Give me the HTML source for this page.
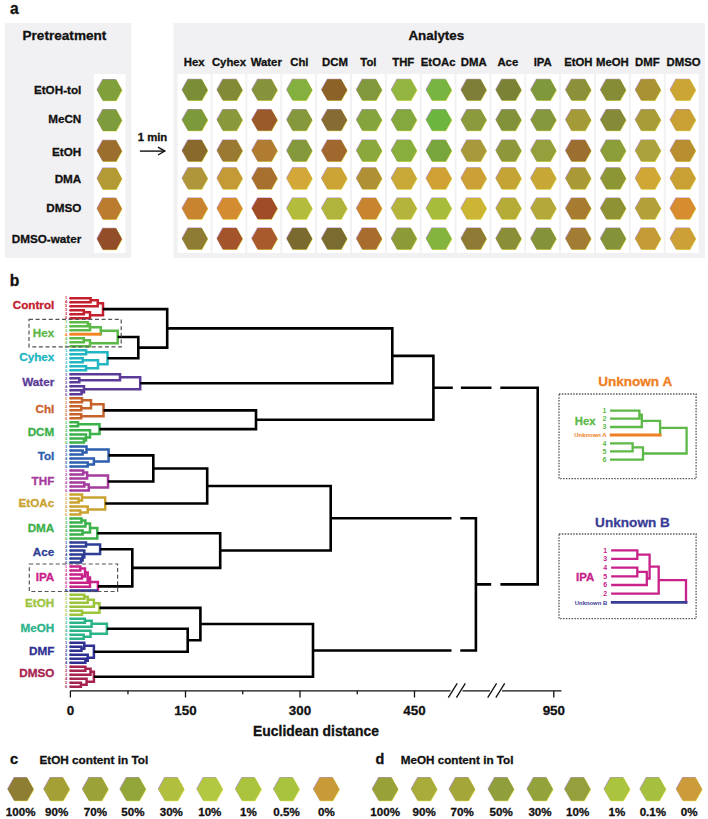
<!DOCTYPE html>
<html><head><meta charset="utf-8"><title>Figure</title>
<style>
html,body{margin:0;padding:0;background:#fff;}
svg{display:block;}
text{font-family:"Liberation Sans", sans-serif;}
</style></head>
<body>
<svg width="708" height="819" viewBox="0 0 708 819" font-family='"Liberation Sans", sans-serif'>
<rect x="0" y="0" width="708" height="819" fill="#fff"/>
<text x="9.9" y="14" font-size="15.6" fill="#111" stroke="#111" stroke-width="0.3" text-anchor="start" font-weight="bold" >a</text>
<rect x="5" y="23" width="126.2" height="235" fill="#f1f1f3"/>
<rect x="173.6" y="23" width="531.4" height="235" fill="#f1f1f3"/>
<text x="22.5" y="40" font-size="13.6" fill="#111" stroke="#111" stroke-width="0.3" text-anchor="start" font-weight="bold" >Pretreatment</text>
<text x="436.3" y="40" font-size="13.4" fill="#111" stroke="#111" stroke-width="0.3" text-anchor="middle" font-weight="bold" >Analytes</text>
<rect x="94" y="74" width="31.5" height="179" fill="#fff"/>
<text x="81.3" y="93.9" font-size="11.7" fill="#111" stroke="#111" stroke-width="0.3" text-anchor="end" font-weight="bold" >EtOH-tol</text>
<path d="M96.50,89.60 L102.34,78.90 L115.66,78.90 L121.50,89.60 L115.66,100.30 L102.34,100.30Z" fill="#b58fd0"/><path d="M97.50,90.60 L103.34,79.90 L116.66,79.90 L122.50,90.60 L116.66,101.30 L103.34,101.30Z" fill="#e8e65a"/><path d="M97.00,90.10 L102.84,79.40 L116.16,79.40 L122.00,90.10 L116.16,100.80 L102.84,100.80Z" fill="#80a03c"/>
<text x="81.3" y="122.8" font-size="11.7" fill="#111" stroke="#111" stroke-width="0.3" text-anchor="end" font-weight="bold" >MeCN</text>
<path d="M96.50,119.80 L102.34,109.10 L115.66,109.10 L121.50,119.80 L115.66,130.50 L102.34,130.50Z" fill="#b58fd0"/><path d="M97.50,120.80 L103.34,110.10 L116.66,110.10 L122.50,120.80 L116.66,131.50 L103.34,131.50Z" fill="#e8e65a"/><path d="M97.00,120.30 L102.84,109.60 L116.16,109.60 L122.00,120.30 L116.16,131.00 L102.84,131.00Z" fill="#7e9c3c"/>
<text x="81.3" y="155.5" font-size="11.7" fill="#111" stroke="#111" stroke-width="0.3" text-anchor="end" font-weight="bold" >EtOH</text>
<path d="M96.50,150.40 L102.34,139.70 L115.66,139.70 L121.50,150.40 L115.66,161.10 L102.34,161.10Z" fill="#b58fd0"/><path d="M97.50,151.40 L103.34,140.70 L116.66,140.70 L122.50,151.40 L116.66,162.10 L103.34,162.10Z" fill="#e8e65a"/><path d="M97.00,150.90 L102.84,140.20 L116.16,140.20 L122.00,150.90 L116.16,161.60 L102.84,161.60Z" fill="#9c6e2e"/>
<text x="81.3" y="183.1" font-size="11.7" fill="#111" stroke="#111" stroke-width="0.3" text-anchor="end" font-weight="bold" >DMA</text>
<path d="M96.50,178.20 L102.34,167.50 L115.66,167.50 L121.50,178.20 L115.66,188.90 L102.34,188.90Z" fill="#b58fd0"/><path d="M97.50,179.20 L103.34,168.50 L116.66,168.50 L122.50,179.20 L116.66,189.90 L103.34,189.90Z" fill="#e8e65a"/><path d="M97.00,178.70 L102.84,168.00 L116.16,168.00 L122.00,178.70 L116.16,189.40 L102.84,189.40Z" fill="#b49a34"/>
<text x="81.3" y="211.8" font-size="11.7" fill="#111" stroke="#111" stroke-width="0.3" text-anchor="end" font-weight="bold" >DMSO</text>
<path d="M96.50,208.30 L102.34,197.60 L115.66,197.60 L121.50,208.30 L115.66,219.00 L102.34,219.00Z" fill="#b58fd0"/><path d="M97.50,209.30 L103.34,198.60 L116.66,198.60 L122.50,209.30 L116.66,220.00 L103.34,220.00Z" fill="#e8e65a"/><path d="M97.00,208.80 L102.84,198.10 L116.16,198.10 L122.00,208.80 L116.16,219.50 L102.84,219.50Z" fill="#bc7c30"/>
<text x="81.3" y="242.5" font-size="11.7" fill="#111" stroke="#111" stroke-width="0.3" text-anchor="end" font-weight="bold" >DMSO-water</text>
<path d="M96.50,238.50 L102.34,227.80 L115.66,227.80 L121.50,238.50 L115.66,249.20 L102.34,249.20Z" fill="#b58fd0"/><path d="M97.50,239.50 L103.34,228.80 L116.66,228.80 L122.50,239.50 L116.66,250.20 L103.34,250.20Z" fill="#e8e65a"/><path d="M97.00,239.00 L102.84,228.30 L116.16,228.30 L122.00,239.00 L116.16,249.70 L102.84,249.70Z" fill="#924e28"/>
<text x="152.5" y="141.2" font-size="11.3" fill="#111" stroke="#111" stroke-width="0.3" text-anchor="middle" font-weight="bold" >1 min</text>
<path d="M139.9,151.1 L164.6,151.1" stroke="#111" stroke-width="1.4" fill="none"/>
<path d="M158,147.2 L164.8,151.1 L158,155" stroke="#111" stroke-width="1.4" fill="none"/>
<rect x="177.60" y="74" width="33.0" height="179" fill="#fff"/>
<text x="194.10" y="66.4" font-size="11.35" fill="#111" stroke="#111" stroke-width="0.3" text-anchor="middle" font-weight="bold" >Hex</text>
<path d="M181.55,89.40 L187.55,78.70 L201.25,78.70 L207.25,89.40 L201.25,100.10 L187.55,100.10Z" fill="#b58fd0"/><path d="M182.55,90.40 L188.55,79.70 L202.25,79.70 L208.25,90.40 L202.25,101.10 L188.55,101.10Z" fill="#e8e65a"/><path d="M182.05,89.90 L188.05,79.20 L201.75,79.20 L207.75,89.90 L201.75,100.60 L188.05,100.60Z" fill="#7a8e38"/>
<path d="M181.55,119.60 L187.55,108.90 L201.25,108.90 L207.25,119.60 L201.25,130.30 L187.55,130.30Z" fill="#b58fd0"/><path d="M182.55,120.60 L188.55,109.90 L202.25,109.90 L208.25,120.60 L202.25,131.30 L188.55,131.30Z" fill="#e8e65a"/><path d="M182.05,120.10 L188.05,109.40 L201.75,109.40 L207.75,120.10 L201.75,130.80 L188.05,130.80Z" fill="#7c9a3a"/>
<path d="M181.55,150.20 L187.55,139.50 L201.25,139.50 L207.25,150.20 L201.25,160.90 L187.55,160.90Z" fill="#b58fd0"/><path d="M182.55,151.20 L188.55,140.50 L202.25,140.50 L208.25,151.20 L202.25,161.90 L188.55,161.90Z" fill="#e8e65a"/><path d="M182.05,150.70 L188.05,140.00 L201.75,140.00 L207.75,150.70 L201.75,161.40 L188.05,161.40Z" fill="#8a6a2c"/>
<path d="M181.55,178.00 L187.55,167.30 L201.25,167.30 L207.25,178.00 L201.25,188.70 L187.55,188.70Z" fill="#b58fd0"/><path d="M182.55,179.00 L188.55,168.30 L202.25,168.30 L208.25,179.00 L202.25,189.70 L188.55,189.70Z" fill="#e8e65a"/><path d="M182.05,178.50 L188.05,167.80 L201.75,167.80 L207.75,178.50 L201.75,189.20 L188.05,189.20Z" fill="#b0963a"/>
<path d="M181.55,208.10 L187.55,197.40 L201.25,197.40 L207.25,208.10 L201.25,218.80 L187.55,218.80Z" fill="#b58fd0"/><path d="M182.55,209.10 L188.55,198.40 L202.25,198.40 L208.25,209.10 L202.25,219.80 L188.55,219.80Z" fill="#e8e65a"/><path d="M182.05,208.60 L188.05,197.90 L201.75,197.90 L207.75,208.60 L201.75,219.30 L188.05,219.30Z" fill="#c8842e"/>
<path d="M181.55,238.30 L187.55,227.60 L201.25,227.60 L207.25,238.30 L201.25,249.00 L187.55,249.00Z" fill="#b58fd0"/><path d="M182.55,239.30 L188.55,228.60 L202.25,228.60 L208.25,239.30 L202.25,250.00 L188.55,250.00Z" fill="#e8e65a"/><path d="M182.05,238.80 L188.05,228.10 L201.75,228.10 L207.75,238.80 L201.75,249.50 L188.05,249.50Z" fill="#8e7c34"/>
<rect x="212.46" y="74" width="33.0" height="179" fill="#fff"/>
<text x="228.96" y="66.4" font-size="11.35" fill="#111" stroke="#111" stroke-width="0.3" text-anchor="middle" font-weight="bold" >Cyhex</text>
<path d="M216.41,89.40 L222.41,78.70 L236.11,78.70 L242.11,89.40 L236.11,100.10 L222.41,100.10Z" fill="#b58fd0"/><path d="M217.41,90.40 L223.41,79.70 L237.11,79.70 L243.11,90.40 L237.11,101.10 L223.41,101.10Z" fill="#e8e65a"/><path d="M216.91,89.90 L222.91,79.20 L236.61,79.20 L242.61,89.90 L236.61,100.60 L222.91,100.60Z" fill="#828a38"/>
<path d="M216.41,119.60 L222.41,108.90 L236.11,108.90 L242.11,119.60 L236.11,130.30 L222.41,130.30Z" fill="#b58fd0"/><path d="M217.41,120.60 L223.41,109.90 L237.11,109.90 L243.11,120.60 L237.11,131.30 L223.41,131.30Z" fill="#e8e65a"/><path d="M216.91,120.10 L222.91,109.40 L236.61,109.40 L242.61,120.10 L236.61,130.80 L222.91,130.80Z" fill="#8a983c"/>
<path d="M216.41,150.20 L222.41,139.50 L236.11,139.50 L242.11,150.20 L236.11,160.90 L222.41,160.90Z" fill="#b58fd0"/><path d="M217.41,151.20 L223.41,140.50 L237.11,140.50 L243.11,151.20 L237.11,161.90 L223.41,161.90Z" fill="#e8e65a"/><path d="M216.91,150.70 L222.91,140.00 L236.61,140.00 L242.61,150.70 L236.61,161.40 L222.91,161.40Z" fill="#9a7a32"/>
<path d="M216.41,178.00 L222.41,167.30 L236.11,167.30 L242.11,178.00 L236.11,188.70 L222.41,188.70Z" fill="#b58fd0"/><path d="M217.41,179.00 L223.41,168.30 L237.11,168.30 L243.11,179.00 L237.11,189.70 L223.41,189.70Z" fill="#e8e65a"/><path d="M216.91,178.50 L222.91,167.80 L236.61,167.80 L242.61,178.50 L236.61,189.20 L222.91,189.20Z" fill="#c49a36"/>
<path d="M216.41,208.10 L222.41,197.40 L236.11,197.40 L242.11,208.10 L236.11,218.80 L222.41,218.80Z" fill="#b58fd0"/><path d="M217.41,209.10 L223.41,198.40 L237.11,198.40 L243.11,209.10 L237.11,219.80 L223.41,219.80Z" fill="#e8e65a"/><path d="M216.91,208.60 L222.91,197.90 L236.61,197.90 L242.61,208.60 L236.61,219.30 L222.91,219.30Z" fill="#d48c30"/>
<path d="M216.41,238.30 L222.41,227.60 L236.11,227.60 L242.11,238.30 L236.11,249.00 L222.41,249.00Z" fill="#b58fd0"/><path d="M217.41,239.30 L223.41,228.60 L237.11,228.60 L243.11,239.30 L237.11,250.00 L223.41,250.00Z" fill="#e8e65a"/><path d="M216.91,238.80 L222.91,228.10 L236.61,228.10 L242.61,238.80 L236.61,249.50 L222.91,249.50Z" fill="#a4542a"/>
<rect x="247.32" y="74" width="33.0" height="179" fill="#fff"/>
<text x="266.32" y="66.4" font-size="11.35" fill="#111" stroke="#111" stroke-width="0.3" text-anchor="middle" font-weight="bold" >Water</text>
<path d="M251.27,89.40 L257.27,78.70 L270.97,78.70 L276.97,89.40 L270.97,100.10 L257.27,100.10Z" fill="#b58fd0"/><path d="M252.27,90.40 L258.27,79.70 L271.97,79.70 L277.97,90.40 L271.97,101.10 L258.27,101.10Z" fill="#e8e65a"/><path d="M251.77,89.90 L257.77,79.20 L271.47,79.20 L277.47,89.90 L271.47,100.60 L257.77,100.60Z" fill="#86923c"/>
<path d="M251.27,119.60 L257.27,108.90 L270.97,108.90 L276.97,119.60 L270.97,130.30 L257.27,130.30Z" fill="#b58fd0"/><path d="M252.27,120.60 L258.27,109.90 L271.97,109.90 L277.97,120.60 L271.97,131.30 L258.27,131.30Z" fill="#e8e65a"/><path d="M251.77,120.10 L257.77,109.40 L271.47,109.40 L277.47,120.10 L271.47,130.80 L257.77,130.80Z" fill="#9a5a2a"/>
<path d="M251.27,150.20 L257.27,139.50 L270.97,139.50 L276.97,150.20 L270.97,160.90 L257.27,160.90Z" fill="#b58fd0"/><path d="M252.27,151.20 L258.27,140.50 L271.97,140.50 L277.97,151.20 L271.97,161.90 L258.27,161.90Z" fill="#e8e65a"/><path d="M251.77,150.70 L257.77,140.00 L271.47,140.00 L277.47,150.70 L271.47,161.40 L257.77,161.40Z" fill="#b07c32"/>
<path d="M251.27,178.00 L257.27,167.30 L270.97,167.30 L276.97,178.00 L270.97,188.70 L257.27,188.70Z" fill="#b58fd0"/><path d="M252.27,179.00 L258.27,168.30 L271.97,168.30 L277.97,179.00 L271.97,189.70 L258.27,189.70Z" fill="#e8e65a"/><path d="M251.77,178.50 L257.77,167.80 L271.47,167.80 L277.47,178.50 L271.47,189.20 L257.77,189.20Z" fill="#a8702e"/>
<path d="M251.27,208.10 L257.27,197.40 L270.97,197.40 L276.97,208.10 L270.97,218.80 L257.27,218.80Z" fill="#b58fd0"/><path d="M252.27,209.10 L258.27,198.40 L271.97,198.40 L277.97,209.10 L271.97,219.80 L258.27,219.80Z" fill="#e8e65a"/><path d="M251.77,208.60 L257.77,197.90 L271.47,197.90 L277.47,208.60 L271.47,219.30 L257.77,219.30Z" fill="#a04c26"/>
<path d="M251.27,238.30 L257.27,227.60 L270.97,227.60 L276.97,238.30 L270.97,249.00 L257.27,249.00Z" fill="#b58fd0"/><path d="M252.27,239.30 L258.27,228.60 L271.97,228.60 L277.97,239.30 L271.97,250.00 L258.27,250.00Z" fill="#e8e65a"/><path d="M251.77,238.80 L257.77,228.10 L271.47,228.10 L277.47,238.80 L271.47,249.50 L257.77,249.50Z" fill="#a85a2c"/>
<rect x="282.18" y="74" width="33.0" height="179" fill="#fff"/>
<text x="299.38" y="66.4" font-size="11.35" fill="#111" stroke="#111" stroke-width="0.3" text-anchor="middle" font-weight="bold" >Chl</text>
<path d="M286.13,89.40 L292.13,78.70 L305.83,78.70 L311.83,89.40 L305.83,100.10 L292.13,100.10Z" fill="#b58fd0"/><path d="M287.13,90.40 L293.13,79.70 L306.83,79.70 L312.83,90.40 L306.83,101.10 L293.13,101.10Z" fill="#e8e65a"/><path d="M286.63,89.90 L292.63,79.20 L306.33,79.20 L312.33,89.90 L306.33,100.60 L292.63,100.60Z" fill="#84b040"/>
<path d="M286.13,119.60 L292.13,108.90 L305.83,108.90 L311.83,119.60 L305.83,130.30 L292.13,130.30Z" fill="#b58fd0"/><path d="M287.13,120.60 L293.13,109.90 L306.83,109.90 L312.83,120.60 L306.83,131.30 L293.13,131.30Z" fill="#e8e65a"/><path d="M286.63,120.10 L292.63,109.40 L306.33,109.40 L312.33,120.10 L306.33,130.80 L292.63,130.80Z" fill="#86983c"/>
<path d="M286.13,150.20 L292.13,139.50 L305.83,139.50 L311.83,150.20 L305.83,160.90 L292.13,160.90Z" fill="#b58fd0"/><path d="M287.13,151.20 L293.13,140.50 L306.83,140.50 L312.83,151.20 L306.83,161.90 L293.13,161.90Z" fill="#e8e65a"/><path d="M286.63,150.70 L292.63,140.00 L306.33,140.00 L312.33,150.70 L306.33,161.40 L292.63,161.40Z" fill="#84983c"/>
<path d="M286.13,178.00 L292.13,167.30 L305.83,167.30 L311.83,178.00 L305.83,188.70 L292.13,188.70Z" fill="#b58fd0"/><path d="M287.13,179.00 L293.13,168.30 L306.83,168.30 L312.83,179.00 L306.83,189.70 L293.13,189.70Z" fill="#e8e65a"/><path d="M286.63,178.50 L292.63,167.80 L306.33,167.80 L312.33,178.50 L306.33,189.20 L292.63,189.20Z" fill="#d4a838"/>
<path d="M286.13,208.10 L292.13,197.40 L305.83,197.40 L311.83,208.10 L305.83,218.80 L292.13,218.80Z" fill="#b58fd0"/><path d="M287.13,209.10 L293.13,198.40 L306.83,198.40 L312.83,209.10 L306.83,219.80 L293.13,219.80Z" fill="#e8e65a"/><path d="M286.63,208.60 L292.63,197.90 L306.33,197.90 L312.33,208.60 L306.33,219.30 L292.63,219.30Z" fill="#b4bc3c"/>
<path d="M286.13,238.30 L292.13,227.60 L305.83,227.60 L311.83,238.30 L305.83,249.00 L292.13,249.00Z" fill="#b58fd0"/><path d="M287.13,239.30 L293.13,228.60 L306.83,228.60 L312.83,239.30 L306.83,250.00 L293.13,250.00Z" fill="#e8e65a"/><path d="M286.63,238.80 L292.63,228.10 L306.33,228.10 L312.33,238.80 L306.33,249.50 L292.63,249.50Z" fill="#7a6a30"/>
<rect x="317.04" y="74" width="33.0" height="179" fill="#fff"/>
<text x="335.04" y="66.4" font-size="11.35" fill="#111" stroke="#111" stroke-width="0.3" text-anchor="middle" font-weight="bold" >DCM</text>
<path d="M320.99,89.40 L326.99,78.70 L340.69,78.70 L346.69,89.40 L340.69,100.10 L326.99,100.10Z" fill="#b58fd0"/><path d="M321.99,90.40 L327.99,79.70 L341.69,79.70 L347.69,90.40 L341.69,101.10 L327.99,101.10Z" fill="#e8e65a"/><path d="M321.49,89.90 L327.49,79.20 L341.19,79.20 L347.19,89.90 L341.19,100.60 L327.49,100.60Z" fill="#8c6228"/>
<path d="M320.99,119.60 L326.99,108.90 L340.69,108.90 L346.69,119.60 L340.69,130.30 L326.99,130.30Z" fill="#b58fd0"/><path d="M321.99,120.60 L327.99,109.90 L341.69,109.90 L347.69,120.60 L341.69,131.30 L327.99,131.30Z" fill="#e8e65a"/><path d="M321.49,120.10 L327.49,109.40 L341.19,109.40 L347.19,120.10 L341.19,130.80 L327.49,130.80Z" fill="#866c32"/>
<path d="M320.99,150.20 L326.99,139.50 L340.69,139.50 L346.69,150.20 L340.69,160.90 L326.99,160.90Z" fill="#b58fd0"/><path d="M321.99,151.20 L327.99,140.50 L341.69,140.50 L347.69,151.20 L341.69,161.90 L327.99,161.90Z" fill="#e8e65a"/><path d="M321.49,150.70 L327.49,140.00 L341.19,140.00 L347.19,150.70 L341.19,161.40 L327.49,161.40Z" fill="#a0682e"/>
<path d="M320.99,178.00 L326.99,167.30 L340.69,167.30 L346.69,178.00 L340.69,188.70 L326.99,188.70Z" fill="#b58fd0"/><path d="M321.99,179.00 L327.99,168.30 L341.69,168.30 L347.69,179.00 L341.69,189.70 L327.99,189.70Z" fill="#e8e65a"/><path d="M321.49,178.50 L327.49,167.80 L341.19,167.80 L347.19,178.50 L341.19,189.20 L327.49,189.20Z" fill="#cca436"/>
<path d="M320.99,208.10 L326.99,197.40 L340.69,197.40 L346.69,208.10 L340.69,218.80 L326.99,218.80Z" fill="#b58fd0"/><path d="M321.99,209.10 L327.99,198.40 L341.69,198.40 L347.69,209.10 L341.69,219.80 L327.99,219.80Z" fill="#e8e65a"/><path d="M321.49,208.60 L327.49,197.90 L341.19,197.90 L347.19,208.60 L341.19,219.30 L327.49,219.30Z" fill="#b0b43c"/>
<path d="M320.99,238.30 L326.99,227.60 L340.69,227.60 L346.69,238.30 L340.69,249.00 L326.99,249.00Z" fill="#b58fd0"/><path d="M321.99,239.30 L327.99,228.60 L341.69,228.60 L347.69,239.30 L341.69,250.00 L327.99,250.00Z" fill="#e8e65a"/><path d="M321.49,238.80 L327.49,228.10 L341.19,228.10 L347.19,238.80 L341.19,249.50 L327.49,249.50Z" fill="#7a6c30"/>
<rect x="351.90" y="74" width="33.0" height="179" fill="#fff"/>
<text x="368.40" y="66.4" font-size="11.35" fill="#111" stroke="#111" stroke-width="0.3" text-anchor="middle" font-weight="bold" >Tol</text>
<path d="M355.85,89.40 L361.85,78.70 L375.55,78.70 L381.55,89.40 L375.55,100.10 L361.85,100.10Z" fill="#b58fd0"/><path d="M356.85,90.40 L362.85,79.70 L376.55,79.70 L382.55,90.40 L376.55,101.10 L362.85,101.10Z" fill="#e8e65a"/><path d="M356.35,89.90 L362.35,79.20 L376.05,79.20 L382.05,89.90 L376.05,100.60 L362.35,100.60Z" fill="#82983c"/>
<path d="M355.85,119.60 L361.85,108.90 L375.55,108.90 L381.55,119.60 L375.55,130.30 L361.85,130.30Z" fill="#b58fd0"/><path d="M356.85,120.60 L362.85,109.90 L376.55,109.90 L382.55,120.60 L376.55,131.30 L362.85,131.30Z" fill="#e8e65a"/><path d="M356.35,120.10 L362.35,109.40 L376.05,109.40 L382.05,120.10 L376.05,130.80 L362.35,130.80Z" fill="#84a43e"/>
<path d="M355.85,150.20 L361.85,139.50 L375.55,139.50 L381.55,150.20 L375.55,160.90 L361.85,160.90Z" fill="#b58fd0"/><path d="M356.85,151.20 L362.85,140.50 L376.55,140.50 L382.55,151.20 L376.55,161.90 L362.85,161.90Z" fill="#e8e65a"/><path d="M356.35,150.70 L362.35,140.00 L376.05,140.00 L382.05,150.70 L376.05,161.40 L362.35,161.40Z" fill="#8aa83c"/>
<path d="M355.85,178.00 L361.85,167.30 L375.55,167.30 L381.55,178.00 L375.55,188.70 L361.85,188.70Z" fill="#b58fd0"/><path d="M356.85,179.00 L362.85,168.30 L376.55,168.30 L382.55,179.00 L376.55,189.70 L362.85,189.70Z" fill="#e8e65a"/><path d="M356.35,178.50 L362.35,167.80 L376.05,167.80 L382.05,178.50 L376.05,189.20 L362.35,189.20Z" fill="#b09034"/>
<path d="M355.85,208.10 L361.85,197.40 L375.55,197.40 L381.55,208.10 L375.55,218.80 L361.85,218.80Z" fill="#b58fd0"/><path d="M356.85,209.10 L362.85,198.40 L376.55,198.40 L382.55,209.10 L376.55,219.80 L362.85,219.80Z" fill="#e8e65a"/><path d="M356.35,208.60 L362.35,197.90 L376.05,197.90 L382.05,208.60 L376.05,219.30 L362.35,219.30Z" fill="#c8842e"/>
<path d="M355.85,238.30 L361.85,227.60 L375.55,227.60 L381.55,238.30 L375.55,249.00 L361.85,249.00Z" fill="#b58fd0"/><path d="M356.85,239.30 L362.85,228.60 L376.55,228.60 L382.55,239.30 L376.55,250.00 L362.85,250.00Z" fill="#e8e65a"/><path d="M356.35,238.80 L362.35,228.10 L376.05,228.10 L382.05,238.80 L376.05,249.50 L362.35,249.50Z" fill="#a86c2e"/>
<rect x="386.76" y="74" width="33.0" height="179" fill="#fff"/>
<text x="403.26" y="66.4" font-size="11.35" fill="#111" stroke="#111" stroke-width="0.3" text-anchor="middle" font-weight="bold" >THF</text>
<path d="M390.71,89.40 L396.71,78.70 L410.41,78.70 L416.41,89.40 L410.41,100.10 L396.71,100.10Z" fill="#b58fd0"/><path d="M391.71,90.40 L397.71,79.70 L411.41,79.70 L417.41,90.40 L411.41,101.10 L397.71,101.10Z" fill="#e8e65a"/><path d="M391.21,89.90 L397.21,79.20 L410.91,79.20 L416.91,89.90 L410.91,100.60 L397.21,100.60Z" fill="#92b640"/>
<path d="M390.71,119.60 L396.71,108.90 L410.41,108.90 L416.41,119.60 L410.41,130.30 L396.71,130.30Z" fill="#b58fd0"/><path d="M391.71,120.60 L397.71,109.90 L411.41,109.90 L417.41,120.60 L411.41,131.30 L397.71,131.30Z" fill="#e8e65a"/><path d="M391.21,120.10 L397.21,109.40 L410.91,109.40 L416.91,120.10 L410.91,130.80 L397.21,130.80Z" fill="#84a83e"/>
<path d="M390.71,150.20 L396.71,139.50 L410.41,139.50 L416.41,150.20 L410.41,160.90 L396.71,160.90Z" fill="#b58fd0"/><path d="M391.71,151.20 L397.71,140.50 L411.41,140.50 L417.41,151.20 L411.41,161.90 L397.71,161.90Z" fill="#e8e65a"/><path d="M391.21,150.70 L397.21,140.00 L410.91,140.00 L416.91,150.70 L410.91,161.40 L397.21,161.40Z" fill="#88ae3e"/>
<path d="M390.71,178.00 L396.71,167.30 L410.41,167.30 L416.41,178.00 L410.41,188.70 L396.71,188.70Z" fill="#b58fd0"/><path d="M391.71,179.00 L397.71,168.30 L411.41,168.30 L417.41,179.00 L411.41,189.70 L397.71,189.70Z" fill="#e8e65a"/><path d="M391.21,178.50 L397.21,167.80 L410.91,167.80 L416.91,178.50 L410.91,189.20 L397.21,189.20Z" fill="#c8a836"/>
<path d="M390.71,208.10 L396.71,197.40 L410.41,197.40 L416.41,208.10 L410.41,218.80 L396.71,218.80Z" fill="#b58fd0"/><path d="M391.71,209.10 L397.71,198.40 L411.41,198.40 L417.41,209.10 L411.41,219.80 L397.71,219.80Z" fill="#e8e65a"/><path d="M391.21,208.60 L397.21,197.90 L410.91,197.90 L416.91,208.60 L410.91,219.30 L397.21,219.30Z" fill="#b4b43c"/>
<path d="M390.71,238.30 L396.71,227.60 L410.41,227.60 L416.41,238.30 L410.41,249.00 L396.71,249.00Z" fill="#b58fd0"/><path d="M391.71,239.30 L397.71,228.60 L411.41,228.60 L417.41,239.30 L411.41,250.00 L397.71,250.00Z" fill="#e8e65a"/><path d="M391.21,238.80 L397.21,228.10 L410.91,228.10 L416.91,238.80 L410.91,249.50 L397.21,249.50Z" fill="#8c9a38"/>
<rect x="421.62" y="74" width="33.0" height="179" fill="#fff"/>
<text x="438.12" y="66.4" font-size="11.35" fill="#111" stroke="#111" stroke-width="0.3" text-anchor="middle" font-weight="bold" >EtOAc</text>
<path d="M425.57,89.40 L431.57,78.70 L445.27,78.70 L451.27,89.40 L445.27,100.10 L431.57,100.10Z" fill="#b58fd0"/><path d="M426.57,90.40 L432.57,79.70 L446.27,79.70 L452.27,90.40 L446.27,101.10 L432.57,101.10Z" fill="#e8e65a"/><path d="M426.07,89.90 L432.07,79.20 L445.77,79.20 L451.77,89.90 L445.77,100.60 L432.07,100.60Z" fill="#78b440"/>
<path d="M425.57,119.60 L431.57,108.90 L445.27,108.90 L451.27,119.60 L445.27,130.30 L431.57,130.30Z" fill="#b58fd0"/><path d="M426.57,120.60 L432.57,109.90 L446.27,109.90 L452.27,120.60 L446.27,131.30 L432.57,131.30Z" fill="#e8e65a"/><path d="M426.07,120.10 L432.07,109.40 L445.77,109.40 L451.77,120.10 L445.77,130.80 L432.07,130.80Z" fill="#6cb640"/>
<path d="M425.57,150.20 L431.57,139.50 L445.27,139.50 L451.27,150.20 L445.27,160.90 L431.57,160.90Z" fill="#b58fd0"/><path d="M426.57,151.20 L432.57,140.50 L446.27,140.50 L452.27,151.20 L446.27,161.90 L432.57,161.90Z" fill="#e8e65a"/><path d="M426.07,150.70 L432.07,140.00 L445.77,140.00 L451.77,150.70 L445.77,161.40 L432.07,161.40Z" fill="#78a63c"/>
<path d="M425.57,178.00 L431.57,167.30 L445.27,167.30 L451.27,178.00 L445.27,188.70 L431.57,188.70Z" fill="#b58fd0"/><path d="M426.57,179.00 L432.57,168.30 L446.27,168.30 L452.27,179.00 L446.27,189.70 L432.57,189.70Z" fill="#e8e65a"/><path d="M426.07,178.50 L432.07,167.80 L445.77,167.80 L451.77,178.50 L445.77,189.20 L432.07,189.20Z" fill="#d0a234"/>
<path d="M425.57,208.10 L431.57,197.40 L445.27,197.40 L451.27,208.10 L445.27,218.80 L431.57,218.80Z" fill="#b58fd0"/><path d="M426.57,209.10 L432.57,198.40 L446.27,198.40 L452.27,209.10 L446.27,219.80 L432.57,219.80Z" fill="#e8e65a"/><path d="M426.07,208.60 L432.07,197.90 L445.77,197.90 L451.77,208.60 L445.77,219.30 L432.07,219.30Z" fill="#a8bc3c"/>
<path d="M425.57,238.30 L431.57,227.60 L445.27,227.60 L451.27,238.30 L445.27,249.00 L431.57,249.00Z" fill="#b58fd0"/><path d="M426.57,239.30 L432.57,228.60 L446.27,228.60 L452.27,239.30 L446.27,250.00 L432.57,250.00Z" fill="#e8e65a"/><path d="M426.07,238.80 L432.07,228.10 L445.77,228.10 L451.77,238.80 L445.77,249.50 L432.07,249.50Z" fill="#84b43e"/>
<rect x="456.48" y="74" width="33.0" height="179" fill="#fff"/>
<text x="473.78" y="66.4" font-size="11.35" fill="#111" stroke="#111" stroke-width="0.3" text-anchor="middle" font-weight="bold" >DMA</text>
<path d="M460.43,89.40 L466.43,78.70 L480.13,78.70 L486.13,89.40 L480.13,100.10 L466.43,100.10Z" fill="#b58fd0"/><path d="M461.43,90.40 L467.43,79.70 L481.13,79.70 L487.13,90.40 L481.13,101.10 L467.43,101.10Z" fill="#e8e65a"/><path d="M460.93,89.90 L466.93,79.20 L480.63,79.20 L486.63,89.90 L480.63,100.60 L466.93,100.60Z" fill="#7e7e38"/>
<path d="M460.43,119.60 L466.43,108.90 L480.13,108.90 L486.13,119.60 L480.13,130.30 L466.43,130.30Z" fill="#b58fd0"/><path d="M461.43,120.60 L467.43,109.90 L481.13,109.90 L487.13,120.60 L481.13,131.30 L467.43,131.30Z" fill="#e8e65a"/><path d="M460.93,120.10 L466.93,109.40 L480.63,109.40 L486.63,120.10 L480.63,130.80 L466.93,130.80Z" fill="#8c9a3e"/>
<path d="M460.43,150.20 L466.43,139.50 L480.13,139.50 L486.13,150.20 L480.13,160.90 L466.43,160.90Z" fill="#b58fd0"/><path d="M461.43,151.20 L467.43,140.50 L481.13,140.50 L487.13,151.20 L481.13,161.90 L467.43,161.90Z" fill="#e8e65a"/><path d="M460.93,150.70 L466.93,140.00 L480.63,140.00 L486.63,150.70 L480.63,161.40 L466.93,161.40Z" fill="#a89a3c"/>
<path d="M460.43,178.00 L466.43,167.30 L480.13,167.30 L486.13,178.00 L480.13,188.70 L466.43,188.70Z" fill="#b58fd0"/><path d="M461.43,179.00 L467.43,168.30 L481.13,168.30 L487.13,179.00 L481.13,189.70 L467.43,189.70Z" fill="#e8e65a"/><path d="M460.93,178.50 L466.93,167.80 L480.63,167.80 L486.63,178.50 L480.63,189.20 L466.93,189.20Z" fill="#cca036"/>
<path d="M460.43,208.10 L466.43,197.40 L480.13,197.40 L486.13,208.10 L480.13,218.80 L466.43,218.80Z" fill="#b58fd0"/><path d="M461.43,209.10 L467.43,198.40 L481.13,198.40 L487.13,209.10 L481.13,219.80 L467.43,219.80Z" fill="#e8e65a"/><path d="M460.93,208.60 L466.93,197.90 L480.63,197.90 L486.63,208.60 L480.63,219.30 L466.93,219.30Z" fill="#ccb434"/>
<path d="M460.43,238.30 L466.43,227.60 L480.13,227.60 L486.13,238.30 L480.13,249.00 L466.43,249.00Z" fill="#b58fd0"/><path d="M461.43,239.30 L467.43,228.60 L481.13,228.60 L487.13,239.30 L481.13,250.00 L467.43,250.00Z" fill="#e8e65a"/><path d="M460.93,238.80 L466.93,228.10 L480.63,228.10 L486.63,238.80 L480.63,249.50 L466.93,249.50Z" fill="#8e7a34"/>
<rect x="491.34" y="74" width="33.0" height="179" fill="#fff"/>
<text x="507.84" y="66.4" font-size="11.35" fill="#111" stroke="#111" stroke-width="0.3" text-anchor="middle" font-weight="bold" >Ace</text>
<path d="M495.29,89.40 L501.29,78.70 L514.99,78.70 L520.99,89.40 L514.99,100.10 L501.29,100.10Z" fill="#b58fd0"/><path d="M496.29,90.40 L502.29,79.70 L515.99,79.70 L521.99,90.40 L515.99,101.10 L502.29,101.10Z" fill="#e8e65a"/><path d="M495.79,89.90 L501.79,79.20 L515.49,79.20 L521.49,89.90 L515.49,100.60 L501.79,100.60Z" fill="#7a8236"/>
<path d="M495.29,119.60 L501.29,108.90 L514.99,108.90 L520.99,119.60 L514.99,130.30 L501.29,130.30Z" fill="#b58fd0"/><path d="M496.29,120.60 L502.29,109.90 L515.99,109.90 L521.99,120.60 L515.99,131.30 L502.29,131.30Z" fill="#e8e65a"/><path d="M495.79,120.10 L501.79,109.40 L515.49,109.40 L521.49,120.10 L515.49,130.80 L501.79,130.80Z" fill="#82923a"/>
<path d="M495.29,150.20 L501.29,139.50 L514.99,139.50 L520.99,150.20 L514.99,160.90 L501.29,160.90Z" fill="#b58fd0"/><path d="M496.29,151.20 L502.29,140.50 L515.99,140.50 L521.99,151.20 L515.99,161.90 L502.29,161.90Z" fill="#e8e65a"/><path d="M495.79,150.70 L501.79,140.00 L515.49,140.00 L521.49,150.70 L515.49,161.40 L501.79,161.40Z" fill="#8c983a"/>
<path d="M495.29,178.00 L501.29,167.30 L514.99,167.30 L520.99,178.00 L514.99,188.70 L501.29,188.70Z" fill="#b58fd0"/><path d="M496.29,179.00 L502.29,168.30 L515.99,168.30 L521.99,179.00 L515.99,189.70 L502.29,189.70Z" fill="#e8e65a"/><path d="M495.79,178.50 L501.79,167.80 L515.49,167.80 L521.49,178.50 L515.49,189.20 L501.79,189.20Z" fill="#c4a434"/>
<path d="M495.29,208.10 L501.29,197.40 L514.99,197.40 L520.99,208.10 L514.99,218.80 L501.29,218.80Z" fill="#b58fd0"/><path d="M496.29,209.10 L502.29,198.40 L515.99,198.40 L521.99,209.10 L515.99,219.80 L502.29,219.80Z" fill="#e8e65a"/><path d="M495.79,208.60 L501.79,197.90 L515.49,197.90 L521.49,208.60 L515.49,219.30 L501.79,219.30Z" fill="#b4ac36"/>
<path d="M495.29,238.30 L501.29,227.60 L514.99,227.60 L520.99,238.30 L514.99,249.00 L501.29,249.00Z" fill="#b58fd0"/><path d="M496.29,239.30 L502.29,228.60 L515.99,228.60 L521.99,239.30 L515.99,250.00 L502.29,250.00Z" fill="#e8e65a"/><path d="M495.79,238.80 L501.79,228.10 L515.49,228.10 L521.49,238.80 L515.49,249.50 L501.79,249.50Z" fill="#8a8e36"/>
<rect x="526.20" y="74" width="33.0" height="179" fill="#fff"/>
<text x="542.70" y="66.4" font-size="11.35" fill="#111" stroke="#111" stroke-width="0.3" text-anchor="middle" font-weight="bold" >IPA</text>
<path d="M530.15,89.40 L536.15,78.70 L549.85,78.70 L555.85,89.40 L549.85,100.10 L536.15,100.10Z" fill="#b58fd0"/><path d="M531.15,90.40 L537.15,79.70 L550.85,79.70 L556.85,90.40 L550.85,101.10 L537.15,101.10Z" fill="#e8e65a"/><path d="M530.65,89.90 L536.65,79.20 L550.35,79.20 L556.35,89.90 L550.35,100.60 L536.65,100.60Z" fill="#80983c"/>
<path d="M530.15,119.60 L536.15,108.90 L549.85,108.90 L555.85,119.60 L549.85,130.30 L536.15,130.30Z" fill="#b58fd0"/><path d="M531.15,120.60 L537.15,109.90 L550.85,109.90 L556.85,120.60 L550.85,131.30 L537.15,131.30Z" fill="#e8e65a"/><path d="M530.65,120.10 L536.65,109.40 L550.35,109.40 L556.35,120.10 L550.35,130.80 L536.65,130.80Z" fill="#86983c"/>
<path d="M530.15,150.20 L536.15,139.50 L549.85,139.50 L555.85,150.20 L549.85,160.90 L536.15,160.90Z" fill="#b58fd0"/><path d="M531.15,151.20 L537.15,140.50 L550.85,140.50 L556.85,151.20 L550.85,161.90 L537.15,161.90Z" fill="#e8e65a"/><path d="M530.65,150.70 L536.65,140.00 L550.35,140.00 L556.35,150.70 L550.35,161.40 L536.65,161.40Z" fill="#94a03c"/>
<path d="M530.15,178.00 L536.15,167.30 L549.85,167.30 L555.85,178.00 L549.85,188.70 L536.15,188.70Z" fill="#b58fd0"/><path d="M531.15,179.00 L537.15,168.30 L550.85,168.30 L556.85,179.00 L550.85,189.70 L537.15,189.70Z" fill="#e8e65a"/><path d="M530.65,178.50 L536.65,167.80 L550.35,167.80 L556.35,178.50 L550.35,189.20 L536.65,189.20Z" fill="#c8a834"/>
<path d="M530.15,208.10 L536.15,197.40 L549.85,197.40 L555.85,208.10 L549.85,218.80 L536.15,218.80Z" fill="#b58fd0"/><path d="M531.15,209.10 L537.15,198.40 L550.85,198.40 L556.85,209.10 L550.85,219.80 L537.15,219.80Z" fill="#e8e65a"/><path d="M530.65,208.60 L536.65,197.90 L550.35,197.90 L556.35,208.60 L550.35,219.30 L536.65,219.30Z" fill="#b4a838"/>
<path d="M530.15,238.30 L536.15,227.60 L549.85,227.60 L555.85,238.30 L549.85,249.00 L536.15,249.00Z" fill="#b58fd0"/><path d="M531.15,239.30 L537.15,228.60 L550.85,228.60 L556.85,239.30 L550.85,250.00 L537.15,250.00Z" fill="#e8e65a"/><path d="M530.65,238.80 L536.65,228.10 L550.35,228.10 L556.35,238.80 L550.35,249.50 L536.65,249.50Z" fill="#84923a"/>
<rect x="561.06" y="74" width="33.0" height="179" fill="#fff"/>
<text x="578.36" y="66.4" font-size="11.35" fill="#111" stroke="#111" stroke-width="0.3" text-anchor="middle" font-weight="bold" >EtOH</text>
<path d="M565.01,89.40 L571.01,78.70 L584.71,78.70 L590.71,89.40 L584.71,100.10 L571.01,100.10Z" fill="#b58fd0"/><path d="M566.01,90.40 L572.01,79.70 L585.71,79.70 L591.71,90.40 L585.71,101.10 L572.01,101.10Z" fill="#e8e65a"/><path d="M565.51,89.90 L571.51,79.20 L585.21,79.20 L591.21,89.90 L585.21,100.60 L571.51,100.60Z" fill="#8c9038"/>
<path d="M565.01,119.60 L571.01,108.90 L584.71,108.90 L590.71,119.60 L584.71,130.30 L571.01,130.30Z" fill="#b58fd0"/><path d="M566.01,120.60 L572.01,109.90 L585.71,109.90 L591.71,120.60 L585.71,131.30 L572.01,131.30Z" fill="#e8e65a"/><path d="M565.51,120.10 L571.51,109.40 L585.21,109.40 L591.21,120.10 L585.21,130.80 L571.51,130.80Z" fill="#a49a38"/>
<path d="M565.01,150.20 L571.01,139.50 L584.71,139.50 L590.71,150.20 L584.71,160.90 L571.01,160.90Z" fill="#b58fd0"/><path d="M566.01,151.20 L572.01,140.50 L585.71,140.50 L591.71,151.20 L585.71,161.90 L572.01,161.90Z" fill="#e8e65a"/><path d="M565.51,150.70 L571.51,140.00 L585.21,140.00 L591.21,150.70 L585.21,161.40 L571.51,161.40Z" fill="#9c6e30"/>
<path d="M565.01,178.00 L571.01,167.30 L584.71,167.30 L590.71,178.00 L584.71,188.70 L571.01,188.70Z" fill="#b58fd0"/><path d="M566.01,179.00 L572.01,168.30 L585.71,168.30 L591.71,179.00 L585.71,189.70 L572.01,189.70Z" fill="#e8e65a"/><path d="M565.51,178.50 L571.51,167.80 L585.21,167.80 L591.21,178.50 L585.21,189.20 L571.51,189.20Z" fill="#aa9a36"/>
<path d="M565.01,208.10 L571.01,197.40 L584.71,197.40 L590.71,208.10 L584.71,218.80 L571.01,218.80Z" fill="#b58fd0"/><path d="M566.01,209.10 L572.01,198.40 L585.71,198.40 L591.71,209.10 L585.71,219.80 L572.01,219.80Z" fill="#e8e65a"/><path d="M565.51,208.60 L571.51,197.90 L585.21,197.90 L591.21,208.60 L585.21,219.30 L571.51,219.30Z" fill="#a87c30"/>
<path d="M565.01,238.30 L571.01,227.60 L584.71,227.60 L590.71,238.30 L584.71,249.00 L571.01,249.00Z" fill="#b58fd0"/><path d="M566.01,239.30 L572.01,228.60 L585.71,228.60 L591.71,239.30 L585.71,250.00 L572.01,250.00Z" fill="#e8e65a"/><path d="M565.51,238.80 L571.51,228.10 L585.21,228.10 L591.21,238.80 L585.21,249.50 L571.51,249.50Z" fill="#a27c32"/>
<rect x="595.92" y="74" width="33.0" height="179" fill="#fff"/>
<text x="612.42" y="66.4" font-size="11.35" fill="#111" stroke="#111" stroke-width="0.3" text-anchor="middle" font-weight="bold" >MeOH</text>
<path d="M599.87,89.40 L605.87,78.70 L619.57,78.70 L625.57,89.40 L619.57,100.10 L605.87,100.10Z" fill="#b58fd0"/><path d="M600.87,90.40 L606.87,79.70 L620.57,79.70 L626.57,90.40 L620.57,101.10 L606.87,101.10Z" fill="#e8e65a"/><path d="M600.37,89.90 L606.37,79.20 L620.07,79.20 L626.07,89.90 L620.07,100.60 L606.37,100.60Z" fill="#868c36"/>
<path d="M599.87,119.60 L605.87,108.90 L619.57,108.90 L625.57,119.60 L619.57,130.30 L605.87,130.30Z" fill="#b58fd0"/><path d="M600.87,120.60 L606.87,109.90 L620.57,109.90 L626.57,120.60 L620.57,131.30 L606.87,131.30Z" fill="#e8e65a"/><path d="M600.37,120.10 L606.37,109.40 L620.07,109.40 L626.07,120.10 L620.07,130.80 L606.37,130.80Z" fill="#848a38"/>
<path d="M599.87,150.20 L605.87,139.50 L619.57,139.50 L625.57,150.20 L619.57,160.90 L605.87,160.90Z" fill="#b58fd0"/><path d="M600.87,151.20 L606.87,140.50 L620.57,140.50 L626.57,151.20 L620.57,161.90 L606.87,161.90Z" fill="#e8e65a"/><path d="M600.37,150.70 L606.37,140.00 L620.07,140.00 L626.07,150.70 L620.07,161.40 L606.37,161.40Z" fill="#8c9e3a"/>
<path d="M599.87,178.00 L605.87,167.30 L619.57,167.30 L625.57,178.00 L619.57,188.70 L605.87,188.70Z" fill="#b58fd0"/><path d="M600.87,179.00 L606.87,168.30 L620.57,168.30 L626.57,179.00 L620.57,189.70 L606.87,189.70Z" fill="#e8e65a"/><path d="M600.37,178.50 L606.37,167.80 L620.07,167.80 L626.07,178.50 L620.07,189.20 L606.37,189.20Z" fill="#8c9634"/>
<path d="M599.87,208.10 L605.87,197.40 L619.57,197.40 L625.57,208.10 L619.57,218.80 L605.87,218.80Z" fill="#b58fd0"/><path d="M600.87,209.10 L606.87,198.40 L620.57,198.40 L626.57,209.10 L620.57,219.80 L606.87,219.80Z" fill="#e8e65a"/><path d="M600.37,208.60 L606.37,197.90 L620.07,197.90 L626.07,208.60 L620.07,219.30 L606.37,219.30Z" fill="#8e9234"/>
<path d="M599.87,238.30 L605.87,227.60 L619.57,227.60 L625.57,238.30 L619.57,249.00 L605.87,249.00Z" fill="#b58fd0"/><path d="M600.87,239.30 L606.87,228.60 L620.57,228.60 L626.57,239.30 L620.57,250.00 L606.87,250.00Z" fill="#e8e65a"/><path d="M600.37,238.80 L606.37,228.10 L620.07,228.10 L626.07,238.80 L620.07,249.50 L606.37,249.50Z" fill="#84923a"/>
<rect x="630.78" y="74" width="33.0" height="179" fill="#fff"/>
<text x="647.28" y="66.4" font-size="11.35" fill="#111" stroke="#111" stroke-width="0.3" text-anchor="middle" font-weight="bold" >DMF</text>
<path d="M634.73,89.40 L640.73,78.70 L654.43,78.70 L660.43,89.40 L654.43,100.10 L640.73,100.10Z" fill="#b58fd0"/><path d="M635.73,90.40 L641.73,79.70 L655.43,79.70 L661.43,90.40 L655.43,101.10 L641.73,101.10Z" fill="#e8e65a"/><path d="M635.23,89.90 L641.23,79.20 L654.93,79.20 L660.93,89.90 L654.93,100.60 L641.23,100.60Z" fill="#a89234"/>
<path d="M634.73,119.60 L640.73,108.90 L654.43,108.90 L660.43,119.60 L654.43,130.30 L640.73,130.30Z" fill="#b58fd0"/><path d="M635.73,120.60 L641.73,109.90 L655.43,109.90 L661.43,120.60 L655.43,131.30 L641.73,131.30Z" fill="#e8e65a"/><path d="M635.23,120.10 L641.23,109.40 L654.93,109.40 L660.93,120.10 L654.93,130.80 L641.23,130.80Z" fill="#a89c38"/>
<path d="M634.73,150.20 L640.73,139.50 L654.43,139.50 L660.43,150.20 L654.43,160.90 L640.73,160.90Z" fill="#b58fd0"/><path d="M635.73,151.20 L641.73,140.50 L655.43,140.50 L661.43,151.20 L655.43,161.90 L641.73,161.90Z" fill="#e8e65a"/><path d="M635.23,150.70 L641.23,140.00 L654.93,140.00 L660.93,150.70 L654.93,161.40 L641.23,161.40Z" fill="#aca23c"/>
<path d="M634.73,178.00 L640.73,167.30 L654.43,167.30 L660.43,178.00 L654.43,188.70 L640.73,188.70Z" fill="#b58fd0"/><path d="M635.73,179.00 L641.73,168.30 L655.43,168.30 L661.43,179.00 L655.43,189.70 L641.73,189.70Z" fill="#e8e65a"/><path d="M635.23,178.50 L641.23,167.80 L654.93,167.80 L660.93,178.50 L654.93,189.20 L641.23,189.20Z" fill="#d0a634"/>
<path d="M634.73,208.10 L640.73,197.40 L654.43,197.40 L660.43,208.10 L654.43,218.80 L640.73,218.80Z" fill="#b58fd0"/><path d="M635.73,209.10 L641.73,198.40 L655.43,198.40 L661.43,209.10 L655.43,219.80 L641.73,219.80Z" fill="#e8e65a"/><path d="M635.23,208.60 L641.23,197.90 L654.93,197.90 L660.93,208.60 L654.93,219.30 L641.23,219.30Z" fill="#b4a038"/>
<path d="M634.73,238.30 L640.73,227.60 L654.43,227.60 L660.43,238.30 L654.43,249.00 L640.73,249.00Z" fill="#b58fd0"/><path d="M635.73,239.30 L641.73,228.60 L655.43,228.60 L661.43,239.30 L655.43,250.00 L641.73,250.00Z" fill="#e8e65a"/><path d="M635.23,238.80 L641.23,228.10 L654.93,228.10 L660.93,238.80 L654.93,249.50 L641.23,249.50Z" fill="#c49a34"/>
<rect x="665.64" y="74" width="33.0" height="179" fill="#fff"/>
<text x="683.64" y="66.4" font-size="11.35" fill="#111" stroke="#111" stroke-width="0.3" text-anchor="middle" font-weight="bold" >DMSO</text>
<path d="M669.59,89.40 L675.59,78.70 L689.29,78.70 L695.29,89.40 L689.29,100.10 L675.59,100.10Z" fill="#b58fd0"/><path d="M670.59,90.40 L676.59,79.70 L690.29,79.70 L696.29,90.40 L690.29,101.10 L676.59,101.10Z" fill="#e8e65a"/><path d="M670.09,89.90 L676.09,79.20 L689.79,79.20 L695.79,89.90 L689.79,100.60 L676.09,100.60Z" fill="#cca634"/>
<path d="M669.59,119.60 L675.59,108.90 L689.29,108.90 L695.29,119.60 L689.29,130.30 L675.59,130.30Z" fill="#b58fd0"/><path d="M670.59,120.60 L676.59,109.90 L690.29,109.90 L696.29,120.60 L690.29,131.30 L676.59,131.30Z" fill="#e8e65a"/><path d="M670.09,120.10 L676.09,109.40 L689.79,109.40 L695.79,120.10 L689.79,130.80 L676.09,130.80Z" fill="#c8a034"/>
<path d="M669.59,150.20 L675.59,139.50 L689.29,139.50 L695.29,150.20 L689.29,160.90 L675.59,160.90Z" fill="#b58fd0"/><path d="M670.59,151.20 L676.59,140.50 L690.29,140.50 L696.29,151.20 L690.29,161.90 L676.59,161.90Z" fill="#e8e65a"/><path d="M670.09,150.70 L676.09,140.00 L689.79,140.00 L695.79,150.70 L689.79,161.40 L676.09,161.40Z" fill="#b88e30"/>
<path d="M669.59,178.00 L675.59,167.30 L689.29,167.30 L695.29,178.00 L689.29,188.70 L675.59,188.70Z" fill="#b58fd0"/><path d="M670.59,179.00 L676.59,168.30 L690.29,168.30 L696.29,179.00 L690.29,189.70 L676.59,189.70Z" fill="#e8e65a"/><path d="M670.09,178.50 L676.09,167.80 L689.79,167.80 L695.79,178.50 L689.79,189.20 L676.09,189.20Z" fill="#c8a034"/>
<path d="M669.59,208.10 L675.59,197.40 L689.29,197.40 L695.29,208.10 L689.29,218.80 L675.59,218.80Z" fill="#b58fd0"/><path d="M670.59,209.10 L676.59,198.40 L690.29,198.40 L696.29,209.10 L690.29,219.80 L676.59,219.80Z" fill="#e8e65a"/><path d="M670.09,208.60 L676.09,197.90 L689.79,197.90 L695.79,208.60 L689.79,219.30 L676.09,219.30Z" fill="#d88c30"/>
<path d="M669.59,238.30 L675.59,227.60 L689.29,227.60 L695.29,238.30 L689.29,249.00 L675.59,249.00Z" fill="#b58fd0"/><path d="M670.59,239.30 L676.59,228.60 L690.29,228.60 L696.29,239.30 L690.29,250.00 L676.59,250.00Z" fill="#e8e65a"/><path d="M670.09,238.80 L676.09,228.10 L689.79,228.10 L695.79,238.80 L689.79,249.50 L676.09,249.50Z" fill="#cca036"/>
<text x="9.7" y="285.6" font-size="15.6" fill="#111" stroke="#111" stroke-width="0.3" text-anchor="start" font-weight="bold" >b</text>
<text x="54.3" y="308.6" font-size="11.7" fill="#c4202e" stroke="#c4202e" stroke-width="0.3" text-anchor="end" font-weight="bold" >Control</text>
<text x="54.3" y="336.8" font-size="11.7" fill="#5cb947" stroke="#5cb947" stroke-width="0.3" text-anchor="end" font-weight="bold" >Hex</text>
<text x="54.3" y="361.0" font-size="11.7" fill="#22b5c2" stroke="#22b5c2" stroke-width="0.3" text-anchor="end" font-weight="bold" >Cyhex</text>
<text x="54.3" y="386.3" font-size="11.7" fill="#5b3b97" stroke="#5b3b97" stroke-width="0.3" text-anchor="end" font-weight="bold" >Water</text>
<text x="54.3" y="412.7" font-size="11.7" fill="#c8622b" stroke="#c8622b" stroke-width="0.3" text-anchor="end" font-weight="bold" >Chl</text>
<text x="54.3" y="436.2" font-size="11.7" fill="#3bb14a" stroke="#3bb14a" stroke-width="0.3" text-anchor="end" font-weight="bold" >DCM</text>
<text x="54.3" y="460.0" font-size="11.7" fill="#2d5fae" stroke="#2d5fae" stroke-width="0.3" text-anchor="end" font-weight="bold" >Tol</text>
<text x="54.3" y="484.7" font-size="11.7" fill="#a43b9d" stroke="#a43b9d" stroke-width="0.3" text-anchor="end" font-weight="bold" >THF</text>
<text x="54.3" y="507.0" font-size="11.7" fill="#c9a22f" stroke="#c9a22f" stroke-width="0.3" text-anchor="end" font-weight="bold" >EtOAc</text>
<text x="54.3" y="532.0" font-size="11.7" fill="#3bb14a" stroke="#3bb14a" stroke-width="0.3" text-anchor="end" font-weight="bold" >DMA</text>
<text x="54.3" y="555.5" font-size="11.7" fill="#2e3e94" stroke="#2e3e94" stroke-width="0.3" text-anchor="end" font-weight="bold" >Ace</text>
<text x="54.3" y="581.4" font-size="11.7" fill="#c9218a" stroke="#c9218a" stroke-width="0.3" text-anchor="end" font-weight="bold" >IPA</text>
<text x="54.3" y="606.8" font-size="11.7" fill="#9cc43c" stroke="#9cc43c" stroke-width="0.3" text-anchor="end" font-weight="bold" >EtOH</text>
<text x="54.3" y="632.0" font-size="11.7" fill="#2bb48a" stroke="#2bb48a" stroke-width="0.3" text-anchor="end" font-weight="bold" >MeOH</text>
<text x="54.3" y="655.0" font-size="11.7" fill="#2f3192" stroke="#2f3192" stroke-width="0.3" text-anchor="end" font-weight="bold" >DMF</text>
<text x="54.3" y="676.5" font-size="11.7" fill="#a7234f" stroke="#a7234f" stroke-width="0.3" text-anchor="end" font-weight="bold" >DMSO</text>
<path d="M70.40,298.15 L90.60,298.15 M70.40,302.16 L90.60,302.16 M90.60,296.90 L90.60,303.41 M90.60,300.15 L97.70,300.15 M70.40,306.16 L97.70,306.16 M97.70,298.90 L97.70,307.41 M70.40,310.17 L83.80,310.17 M70.40,314.18 L83.80,314.18 M83.80,308.92 L83.80,315.43 M83.80,312.17 L90.00,312.17 M70.40,318.18 L90.00,318.18 M90.00,310.92 L90.00,319.43 M97.70,303.16 L103.00,303.16 M90.00,315.18 L103.00,315.18 M103.00,301.91 L103.00,316.43" stroke="#c4202e" stroke-width="2.5" fill="none" stroke-linecap="butt"/>
<circle cx="70.40" cy="298.15" r="1.25" fill="#c4202e"/>
<text x="66.2" y="299.45" font-size="4.0" fill="#c4202e" text-anchor="middle" font-weight="bold">1</text>
<circle cx="70.40" cy="302.16" r="1.25" fill="#c4202e"/>
<text x="66.2" y="303.46" font-size="4.0" fill="#c4202e" text-anchor="middle" font-weight="bold">4</text>
<circle cx="70.40" cy="306.16" r="1.25" fill="#c4202e"/>
<text x="66.2" y="307.46" font-size="4.0" fill="#c4202e" text-anchor="middle" font-weight="bold">5</text>
<circle cx="70.40" cy="310.17" r="1.25" fill="#c4202e"/>
<text x="66.2" y="311.47" font-size="4.0" fill="#c4202e" text-anchor="middle" font-weight="bold">2</text>
<circle cx="70.40" cy="314.18" r="1.25" fill="#c4202e"/>
<text x="66.2" y="315.48" font-size="4.0" fill="#c4202e" text-anchor="middle" font-weight="bold">3</text>
<circle cx="70.40" cy="318.18" r="1.25" fill="#c4202e"/>
<text x="66.2" y="319.48" font-size="4.0" fill="#c4202e" text-anchor="middle" font-weight="bold">6</text>
<path d="M70.40,322.19 L87.80,322.19 M70.40,326.20 L87.80,326.20 M87.80,320.94 L87.80,327.45 M87.80,324.19 L90.00,324.19 M70.40,330.20 L90.00,330.20 M90.00,322.94 L90.00,331.45 M90.00,327.20 L100.80,327.20 M100.80,325.95 L100.80,335.46 M70.40,338.22 L83.80,338.22 M70.40,342.22 L83.80,342.22 M83.80,336.97 L83.80,343.47 M83.80,340.22 L90.00,340.22 M70.40,346.23 L90.00,346.23 M90.00,338.97 L90.00,347.48 M100.80,330.70 L117.70,330.70 M90.00,343.23 L117.70,343.23 M117.70,329.45 L117.70,344.48" stroke="#5cb947" stroke-width="2.5" fill="none" stroke-linecap="butt"/>
<path d="M70.40,334.21 L100.80,334.21" stroke="#f58220" stroke-width="2.9" fill="none" stroke-linecap="butt"/>
<circle cx="70.40" cy="322.19" r="1.25" fill="#5cb947"/>
<text x="66.2" y="323.49" font-size="4.0" fill="#5cb947" text-anchor="middle" font-weight="bold">1</text>
<circle cx="70.40" cy="326.20" r="1.25" fill="#5cb947"/>
<text x="66.2" y="327.50" font-size="4.0" fill="#5cb947" text-anchor="middle" font-weight="bold">2</text>
<circle cx="70.40" cy="330.20" r="1.25" fill="#5cb947"/>
<text x="66.2" y="331.50" font-size="4.0" fill="#5cb947" text-anchor="middle" font-weight="bold">3</text>
<circle cx="70.40" cy="334.21" r="1.25" fill="#f58220"/>
<text x="66.2" y="335.51" font-size="4.0" fill="#f58220" text-anchor="middle" font-weight="bold">A</text>
<circle cx="70.40" cy="338.22" r="1.25" fill="#5cb947"/>
<text x="66.2" y="339.52" font-size="4.0" fill="#5cb947" text-anchor="middle" font-weight="bold">4</text>
<circle cx="70.40" cy="342.22" r="1.25" fill="#5cb947"/>
<text x="66.2" y="343.52" font-size="4.0" fill="#5cb947" text-anchor="middle" font-weight="bold">5</text>
<circle cx="70.40" cy="346.23" r="1.25" fill="#5cb947"/>
<text x="66.2" y="347.53" font-size="4.0" fill="#5cb947" text-anchor="middle" font-weight="bold">6</text>
<path d="M70.40,350.24 L86.10,350.24 M70.40,354.24 L86.10,354.24 M86.10,348.99 L86.10,355.49 M70.40,358.25 L82.70,358.25 M70.40,362.26 L82.70,362.26 M82.70,357.00 L82.70,363.51 M70.40,366.26 L86.00,366.26 M70.40,370.27 L86.00,370.27 M86.00,365.01 L86.00,371.52 M82.70,360.25 L98.00,360.25 M86.00,368.27 L98.00,368.27 M98.00,359.00 L98.00,369.52 M86.10,352.24 L107.50,352.24 M98.00,364.26 L107.50,364.26 M107.50,350.99 L107.50,365.51" stroke="#22b5c2" stroke-width="2.5" fill="none" stroke-linecap="butt"/>
<circle cx="70.40" cy="350.24" r="1.25" fill="#22b5c2"/>
<text x="66.2" y="351.54" font-size="4.0" fill="#22b5c2" text-anchor="middle" font-weight="bold">1</text>
<circle cx="70.40" cy="354.24" r="1.25" fill="#22b5c2"/>
<text x="66.2" y="355.54" font-size="4.0" fill="#22b5c2" text-anchor="middle" font-weight="bold">2</text>
<circle cx="70.40" cy="358.25" r="1.25" fill="#22b5c2"/>
<text x="66.2" y="359.55" font-size="4.0" fill="#22b5c2" text-anchor="middle" font-weight="bold">3</text>
<circle cx="70.40" cy="362.26" r="1.25" fill="#22b5c2"/>
<text x="66.2" y="363.56" font-size="4.0" fill="#22b5c2" text-anchor="middle" font-weight="bold">3</text>
<circle cx="70.40" cy="366.26" r="1.25" fill="#22b5c2"/>
<text x="66.2" y="367.56" font-size="4.0" fill="#22b5c2" text-anchor="middle" font-weight="bold">4</text>
<circle cx="70.40" cy="370.27" r="1.25" fill="#22b5c2"/>
<text x="66.2" y="371.57" font-size="4.0" fill="#22b5c2" text-anchor="middle" font-weight="bold">6</text>
<path d="M70.40,378.28 L79.30,378.28 M70.40,382.29 L79.30,382.29 M79.30,377.03 L79.30,383.54 M70.40,374.28 L120.00,374.28 M79.30,380.29 L120.00,380.29 M120.00,373.03 L120.00,381.54 M70.40,390.30 L81.50,390.30 M70.40,394.31 L81.50,394.31 M81.50,389.05 L81.50,395.56 M70.40,386.30 L84.00,386.30 M81.50,392.31 L84.00,392.31 M84.00,385.05 L84.00,393.56 M120.00,377.28 L140.20,377.28 M84.00,389.30 L140.20,389.30 M140.20,376.03 L140.20,390.55" stroke="#5b3b97" stroke-width="2.5" fill="none" stroke-linecap="butt"/>
<circle cx="70.40" cy="374.28" r="1.25" fill="#5b3b97"/>
<text x="66.2" y="375.58" font-size="4.0" fill="#5b3b97" text-anchor="middle" font-weight="bold">1</text>
<circle cx="70.40" cy="378.28" r="1.25" fill="#5b3b97"/>
<text x="66.2" y="379.58" font-size="4.0" fill="#5b3b97" text-anchor="middle" font-weight="bold">2</text>
<circle cx="70.40" cy="382.29" r="1.25" fill="#5b3b97"/>
<text x="66.2" y="383.59" font-size="4.0" fill="#5b3b97" text-anchor="middle" font-weight="bold">3</text>
<circle cx="70.40" cy="386.30" r="1.25" fill="#5b3b97"/>
<text x="66.2" y="387.60" font-size="4.0" fill="#5b3b97" text-anchor="middle" font-weight="bold">4</text>
<circle cx="70.40" cy="390.30" r="1.25" fill="#5b3b97"/>
<text x="66.2" y="391.60" font-size="4.0" fill="#5b3b97" text-anchor="middle" font-weight="bold">5</text>
<circle cx="70.40" cy="394.31" r="1.25" fill="#5b3b97"/>
<text x="66.2" y="395.61" font-size="4.0" fill="#5b3b97" text-anchor="middle" font-weight="bold">6</text>
<path d="M70.40,398.32 L82.00,398.32 M70.40,402.32 L82.00,402.32 M82.00,397.07 L82.00,403.57 M70.40,406.33 L81.20,406.33 M70.40,410.34 L81.20,410.34 M81.20,405.08 L81.20,411.59 M82.00,400.32 L91.00,400.32 M81.20,408.33 L91.00,408.33 M91.00,399.07 L91.00,409.58 M70.40,414.34 L81.20,414.34 M70.40,418.35 L81.20,418.35 M81.20,413.09 L81.20,419.60 M91.00,404.33 L103.50,404.33 M81.20,416.35 L103.50,416.35 M103.50,403.08 L103.50,417.60" stroke="#c8622b" stroke-width="2.5" fill="none" stroke-linecap="butt"/>
<circle cx="70.40" cy="398.32" r="1.25" fill="#c8622b"/>
<text x="66.2" y="399.62" font-size="4.0" fill="#c8622b" text-anchor="middle" font-weight="bold">1</text>
<circle cx="70.40" cy="402.32" r="1.25" fill="#c8622b"/>
<text x="66.2" y="403.62" font-size="4.0" fill="#c8622b" text-anchor="middle" font-weight="bold">1</text>
<circle cx="70.40" cy="406.33" r="1.25" fill="#c8622b"/>
<text x="66.2" y="407.63" font-size="4.0" fill="#c8622b" text-anchor="middle" font-weight="bold">2</text>
<circle cx="70.40" cy="410.34" r="1.25" fill="#c8622b"/>
<text x="66.2" y="411.64" font-size="4.0" fill="#c8622b" text-anchor="middle" font-weight="bold">3</text>
<circle cx="70.40" cy="414.34" r="1.25" fill="#c8622b"/>
<text x="66.2" y="415.64" font-size="4.0" fill="#c8622b" text-anchor="middle" font-weight="bold">5</text>
<circle cx="70.40" cy="418.35" r="1.25" fill="#c8622b"/>
<text x="66.2" y="419.65" font-size="4.0" fill="#c8622b" text-anchor="middle" font-weight="bold">6</text>
<path d="M70.40,422.36 L78.00,422.36 M70.40,426.36 L78.00,426.36 M78.00,421.11 L78.00,427.61 M70.40,438.38 L83.90,438.38 M70.40,442.39 L83.90,442.39 M83.90,437.13 L83.90,443.64 M70.40,434.38 L86.00,434.38 M83.90,440.39 L86.00,440.39 M86.00,433.13 L86.00,441.64 M70.40,430.37 L90.00,430.37 M86.00,437.38 L90.00,437.38 M90.00,429.12 L90.00,438.63 M78.00,424.36 L99.50,424.36 M90.00,433.88 L99.50,433.88 M99.50,423.11 L99.50,435.13" stroke="#3bb14a" stroke-width="2.5" fill="none" stroke-linecap="butt"/>
<circle cx="70.40" cy="422.36" r="1.25" fill="#3bb14a"/>
<text x="66.2" y="423.66" font-size="4.0" fill="#3bb14a" text-anchor="middle" font-weight="bold">1</text>
<circle cx="70.40" cy="426.36" r="1.25" fill="#3bb14a"/>
<text x="66.2" y="427.66" font-size="4.0" fill="#3bb14a" text-anchor="middle" font-weight="bold">2</text>
<circle cx="70.40" cy="430.37" r="1.25" fill="#3bb14a"/>
<text x="66.2" y="431.67" font-size="4.0" fill="#3bb14a" text-anchor="middle" font-weight="bold">3</text>
<circle cx="70.40" cy="434.38" r="1.25" fill="#3bb14a"/>
<text x="66.2" y="435.68" font-size="4.0" fill="#3bb14a" text-anchor="middle" font-weight="bold">4</text>
<circle cx="70.40" cy="438.38" r="1.25" fill="#3bb14a"/>
<text x="66.2" y="439.68" font-size="4.0" fill="#3bb14a" text-anchor="middle" font-weight="bold">5</text>
<circle cx="70.40" cy="442.39" r="1.25" fill="#3bb14a"/>
<text x="66.2" y="443.69" font-size="4.0" fill="#3bb14a" text-anchor="middle" font-weight="bold">6</text>
<path d="M70.40,450.40 L82.60,450.40 M70.40,454.41 L82.60,454.41 M82.60,449.15 L82.60,455.66 M70.40,446.40 L86.50,446.40 M82.60,452.41 L86.50,452.41 M86.50,445.15 L86.50,453.66 M70.40,462.42 L87.70,462.42 M70.40,466.43 L87.70,466.43 M87.70,461.17 L87.70,467.68 M70.40,458.42 L93.90,458.42 M87.70,464.43 L93.90,464.43 M93.90,457.17 L93.90,465.68 M86.50,449.40 L108.60,449.40 M93.90,461.42 L108.60,461.42 M108.60,448.15 L108.60,462.67" stroke="#2d5fae" stroke-width="2.5" fill="none" stroke-linecap="butt"/>
<circle cx="70.40" cy="446.40" r="1.25" fill="#2d5fae"/>
<text x="66.2" y="447.70" font-size="4.0" fill="#2d5fae" text-anchor="middle" font-weight="bold">1</text>
<circle cx="70.40" cy="450.40" r="1.25" fill="#2d5fae"/>
<text x="66.2" y="451.70" font-size="4.0" fill="#2d5fae" text-anchor="middle" font-weight="bold">2</text>
<circle cx="70.40" cy="454.41" r="1.25" fill="#2d5fae"/>
<text x="66.2" y="455.71" font-size="4.0" fill="#2d5fae" text-anchor="middle" font-weight="bold">3</text>
<circle cx="70.40" cy="458.42" r="1.25" fill="#2d5fae"/>
<text x="66.2" y="459.72" font-size="4.0" fill="#2d5fae" text-anchor="middle" font-weight="bold">4</text>
<circle cx="70.40" cy="462.42" r="1.25" fill="#2d5fae"/>
<text x="66.2" y="463.72" font-size="4.0" fill="#2d5fae" text-anchor="middle" font-weight="bold">5</text>
<circle cx="70.40" cy="466.43" r="1.25" fill="#2d5fae"/>
<text x="66.2" y="467.73" font-size="4.0" fill="#2d5fae" text-anchor="middle" font-weight="bold">6</text>
<path d="M70.40,470.44 L83.20,470.44 M70.40,474.44 L83.20,474.44 M83.20,469.19 L83.20,475.69 M83.20,472.44 L87.10,472.44 M70.40,478.45 L87.10,478.45 M87.10,471.19 L87.10,479.70 M70.40,482.46 L84.30,482.46 M70.40,486.46 L84.30,486.46 M84.30,481.21 L84.30,487.71 M84.30,484.46 L88.80,484.46 M70.40,490.47 L88.80,490.47 M88.80,483.21 L88.80,491.72 M87.10,475.45 L108.00,475.45 M88.80,487.47 L108.00,487.47 M108.00,474.20 L108.00,488.72" stroke="#a43b9d" stroke-width="2.5" fill="none" stroke-linecap="butt"/>
<circle cx="70.40" cy="470.44" r="1.25" fill="#a43b9d"/>
<text x="66.2" y="471.74" font-size="4.0" fill="#a43b9d" text-anchor="middle" font-weight="bold">1</text>
<circle cx="70.40" cy="474.44" r="1.25" fill="#a43b9d"/>
<text x="66.2" y="475.74" font-size="4.0" fill="#a43b9d" text-anchor="middle" font-weight="bold">2</text>
<circle cx="70.40" cy="478.45" r="1.25" fill="#a43b9d"/>
<text x="66.2" y="479.75" font-size="4.0" fill="#a43b9d" text-anchor="middle" font-weight="bold">3</text>
<circle cx="70.40" cy="482.46" r="1.25" fill="#a43b9d"/>
<text x="66.2" y="483.76" font-size="4.0" fill="#a43b9d" text-anchor="middle" font-weight="bold">4</text>
<circle cx="70.40" cy="486.46" r="1.25" fill="#a43b9d"/>
<text x="66.2" y="487.76" font-size="4.0" fill="#a43b9d" text-anchor="middle" font-weight="bold">5</text>
<circle cx="70.40" cy="490.47" r="1.25" fill="#a43b9d"/>
<text x="66.2" y="491.77" font-size="4.0" fill="#a43b9d" text-anchor="middle" font-weight="bold">6</text>
<path d="M70.40,498.49 L78.60,498.49 M70.40,502.49 L78.60,502.49 M78.60,497.24 L78.60,503.74 M70.40,494.48 L82.00,494.48 M78.60,500.49 L82.00,500.49 M82.00,493.23 L82.00,501.74 M70.40,510.51 L80.30,510.51 M70.40,514.51 L80.30,514.51 M80.30,509.26 L80.30,515.76 M70.40,506.50 L87.70,506.50 M80.30,512.51 L87.70,512.51 M87.70,505.25 L87.70,513.76 M82.00,497.48 L105.20,497.48 M87.70,509.50 L105.20,509.50 M105.20,496.23 L105.20,510.75" stroke="#c9a22f" stroke-width="2.5" fill="none" stroke-linecap="butt"/>
<circle cx="70.40" cy="494.48" r="1.25" fill="#c9a22f"/>
<text x="66.2" y="495.78" font-size="4.0" fill="#c9a22f" text-anchor="middle" font-weight="bold">1</text>
<circle cx="70.40" cy="498.49" r="1.25" fill="#c9a22f"/>
<text x="66.2" y="499.79" font-size="4.0" fill="#c9a22f" text-anchor="middle" font-weight="bold">2</text>
<circle cx="70.40" cy="502.49" r="1.25" fill="#c9a22f"/>
<text x="66.2" y="503.79" font-size="4.0" fill="#c9a22f" text-anchor="middle" font-weight="bold">3</text>
<circle cx="70.40" cy="506.50" r="1.25" fill="#c9a22f"/>
<text x="66.2" y="507.80" font-size="4.0" fill="#c9a22f" text-anchor="middle" font-weight="bold">4</text>
<circle cx="70.40" cy="510.51" r="1.25" fill="#c9a22f"/>
<text x="66.2" y="511.81" font-size="4.0" fill="#c9a22f" text-anchor="middle" font-weight="bold">5</text>
<circle cx="70.40" cy="514.51" r="1.25" fill="#c9a22f"/>
<text x="66.2" y="515.81" font-size="4.0" fill="#c9a22f" text-anchor="middle" font-weight="bold">6</text>
<path d="M70.40,518.52 L81.50,518.52 M70.40,522.53 L81.50,522.53 M81.50,517.27 L81.50,523.78 M81.50,520.52 L85.40,520.52 M70.40,526.53 L85.40,526.53 M85.40,519.27 L85.40,527.78 M70.40,530.54 L82.60,530.54 M70.40,534.55 L82.60,534.55 M82.60,529.29 L82.60,535.80 M85.40,523.53 L90.00,523.53 M82.60,532.54 L90.00,532.54 M90.00,522.28 L90.00,533.79 M90.00,528.03 L97.30,528.03 M70.40,538.55 L97.30,538.55 M97.30,526.78 L97.30,539.80" stroke="#3bb14a" stroke-width="2.5" fill="none" stroke-linecap="butt"/>
<circle cx="70.40" cy="518.52" r="1.25" fill="#3bb14a"/>
<text x="66.2" y="519.82" font-size="4.0" fill="#3bb14a" text-anchor="middle" font-weight="bold">1</text>
<circle cx="70.40" cy="522.53" r="1.25" fill="#3bb14a"/>
<text x="66.2" y="523.83" font-size="4.0" fill="#3bb14a" text-anchor="middle" font-weight="bold">3</text>
<circle cx="70.40" cy="526.53" r="1.25" fill="#3bb14a"/>
<text x="66.2" y="527.83" font-size="4.0" fill="#3bb14a" text-anchor="middle" font-weight="bold">2</text>
<circle cx="70.40" cy="530.54" r="1.25" fill="#3bb14a"/>
<text x="66.2" y="531.84" font-size="4.0" fill="#3bb14a" text-anchor="middle" font-weight="bold">4</text>
<circle cx="70.40" cy="534.55" r="1.25" fill="#3bb14a"/>
<text x="66.2" y="535.85" font-size="4.0" fill="#3bb14a" text-anchor="middle" font-weight="bold">5</text>
<circle cx="70.40" cy="538.55" r="1.25" fill="#3bb14a"/>
<text x="66.2" y="539.85" font-size="4.0" fill="#3bb14a" text-anchor="middle" font-weight="bold">6</text>
<path d="M70.40,542.56 L86.00,542.56 M70.40,546.57 L86.00,546.57 M86.00,541.31 L86.00,547.82 M70.40,558.59 L81.00,558.59 M70.40,562.59 L81.00,562.59 M81.00,557.34 L81.00,563.84 M70.40,554.58 L82.60,554.58 M81.00,560.59 L82.60,560.59 M82.60,553.33 L82.60,561.84 M70.40,550.57 L84.30,550.57 M82.60,557.58 L84.30,557.58 M84.30,549.32 L84.30,558.83 M86.00,544.56 L100.10,544.56 M84.30,554.08 L100.10,554.08 M100.10,543.31 L100.10,555.33" stroke="#2e3e94" stroke-width="2.5" fill="none" stroke-linecap="butt"/>
<circle cx="70.40" cy="542.56" r="1.25" fill="#2e3e94"/>
<text x="66.2" y="543.86" font-size="4.0" fill="#2e3e94" text-anchor="middle" font-weight="bold">1</text>
<circle cx="70.40" cy="546.57" r="1.25" fill="#2e3e94"/>
<text x="66.2" y="547.87" font-size="4.0" fill="#2e3e94" text-anchor="middle" font-weight="bold">2</text>
<circle cx="70.40" cy="550.57" r="1.25" fill="#2e3e94"/>
<text x="66.2" y="551.87" font-size="4.0" fill="#2e3e94" text-anchor="middle" font-weight="bold">3</text>
<circle cx="70.40" cy="554.58" r="1.25" fill="#2e3e94"/>
<text x="66.2" y="555.88" font-size="4.0" fill="#2e3e94" text-anchor="middle" font-weight="bold">4</text>
<circle cx="70.40" cy="558.59" r="1.25" fill="#2e3e94"/>
<text x="66.2" y="559.89" font-size="4.0" fill="#2e3e94" text-anchor="middle" font-weight="bold">5</text>
<circle cx="70.40" cy="562.59" r="1.25" fill="#2e3e94"/>
<text x="66.2" y="563.89" font-size="4.0" fill="#2e3e94" text-anchor="middle" font-weight="bold">6</text>
<path d="M70.40,566.60 L80.30,566.60 M70.40,570.61 L80.30,570.61 M80.30,565.35 L80.30,571.86 M70.40,574.61 L82.00,574.61 M70.40,578.62 L82.00,578.62 M82.00,573.36 L82.00,579.87 M80.30,568.60 L85.00,568.60 M82.00,576.62 L85.00,576.62 M85.00,567.35 L85.00,577.87 M85.00,572.61 L87.70,572.61 M70.40,582.63 L87.70,582.63 M87.70,571.36 L87.70,583.88 M87.70,577.62 L90.00,577.62 M70.40,586.63 L90.00,586.63 M90.00,576.37 L90.00,587.88 M90.00,582.12 L97.90,582.12 M97.90,580.87 L97.90,591.89" stroke="#c9218a" stroke-width="2.5" fill="none" stroke-linecap="butt"/>
<path d="M70.40,590.64 L97.90,590.64" stroke="#3a3d98" stroke-width="2.9" fill="none" stroke-linecap="butt"/>
<circle cx="70.40" cy="566.60" r="1.25" fill="#c9218a"/>
<text x="66.2" y="567.90" font-size="4.0" fill="#c9218a" text-anchor="middle" font-weight="bold">1</text>
<circle cx="70.40" cy="570.61" r="1.25" fill="#c9218a"/>
<text x="66.2" y="571.91" font-size="4.0" fill="#c9218a" text-anchor="middle" font-weight="bold">3</text>
<circle cx="70.40" cy="574.61" r="1.25" fill="#c9218a"/>
<text x="66.2" y="575.91" font-size="4.0" fill="#c9218a" text-anchor="middle" font-weight="bold">4</text>
<circle cx="70.40" cy="578.62" r="1.25" fill="#c9218a"/>
<text x="66.2" y="579.92" font-size="4.0" fill="#c9218a" text-anchor="middle" font-weight="bold">5</text>
<circle cx="70.40" cy="582.63" r="1.25" fill="#c9218a"/>
<text x="66.2" y="583.93" font-size="4.0" fill="#c9218a" text-anchor="middle" font-weight="bold">6</text>
<circle cx="70.40" cy="586.63" r="1.25" fill="#c9218a"/>
<text x="66.2" y="587.93" font-size="4.0" fill="#c9218a" text-anchor="middle" font-weight="bold">2</text>
<circle cx="70.40" cy="590.64" r="1.25" fill="#3a3d98"/>
<text x="66.2" y="591.94" font-size="4.0" fill="#3a3d98" text-anchor="middle" font-weight="bold">B</text>
<path d="M70.40,594.65 L84.30,594.65 M70.40,598.65 L84.30,598.65 M84.30,593.40 L84.30,599.90 M84.30,596.65 L87.70,596.65 M70.40,602.66 L87.70,602.66 M87.70,595.40 L87.70,603.91 M87.70,599.65 L93.90,599.65 M70.40,606.67 L93.90,606.67 M93.90,598.40 L93.90,607.92 M70.40,610.67 L82.00,610.67 M70.40,614.68 L82.00,614.68 M82.00,609.42 L82.00,615.93 M93.90,603.16 L99.50,603.16 M82.00,612.68 L99.50,612.68 M99.50,601.91 L99.50,613.93" stroke="#9cc43c" stroke-width="2.5" fill="none" stroke-linecap="butt"/>
<circle cx="70.40" cy="594.65" r="1.25" fill="#9cc43c"/>
<text x="66.2" y="595.95" font-size="4.0" fill="#9cc43c" text-anchor="middle" font-weight="bold">1</text>
<circle cx="70.40" cy="598.65" r="1.25" fill="#9cc43c"/>
<text x="66.2" y="599.95" font-size="4.0" fill="#9cc43c" text-anchor="middle" font-weight="bold">2</text>
<circle cx="70.40" cy="602.66" r="1.25" fill="#9cc43c"/>
<text x="66.2" y="603.96" font-size="4.0" fill="#9cc43c" text-anchor="middle" font-weight="bold">3</text>
<circle cx="70.40" cy="606.67" r="1.25" fill="#9cc43c"/>
<text x="66.2" y="607.97" font-size="4.0" fill="#9cc43c" text-anchor="middle" font-weight="bold">4</text>
<circle cx="70.40" cy="610.67" r="1.25" fill="#9cc43c"/>
<text x="66.2" y="611.97" font-size="4.0" fill="#9cc43c" text-anchor="middle" font-weight="bold">5</text>
<circle cx="70.40" cy="614.68" r="1.25" fill="#9cc43c"/>
<text x="66.2" y="615.98" font-size="4.0" fill="#9cc43c" text-anchor="middle" font-weight="bold">6</text>
<path d="M70.40,618.69 L84.90,618.69 M70.40,622.69 L84.90,622.69 M84.90,617.44 L84.90,623.94 M84.90,620.69 L91.60,620.69 M70.40,626.70 L91.60,626.70 M91.60,619.44 L91.60,627.95 M70.40,634.71 L83.70,634.71 M70.40,638.72 L83.70,638.72 M83.70,633.46 L83.70,639.97 M70.40,630.71 L90.50,630.71 M83.70,636.72 L90.50,636.72 M90.50,629.46 L90.50,637.97 M91.60,623.69 L106.90,623.69 M90.50,633.71 L106.90,633.71 M106.90,622.44 L106.90,634.96" stroke="#2bb48a" stroke-width="2.5" fill="none" stroke-linecap="butt"/>
<circle cx="70.40" cy="618.69" r="1.25" fill="#2bb48a"/>
<text x="66.2" y="619.99" font-size="4.0" fill="#2bb48a" text-anchor="middle" font-weight="bold">1</text>
<circle cx="70.40" cy="622.69" r="1.25" fill="#2bb48a"/>
<text x="66.2" y="623.99" font-size="4.0" fill="#2bb48a" text-anchor="middle" font-weight="bold">2</text>
<circle cx="70.40" cy="626.70" r="1.25" fill="#2bb48a"/>
<text x="66.2" y="628.00" font-size="4.0" fill="#2bb48a" text-anchor="middle" font-weight="bold">3</text>
<circle cx="70.40" cy="630.71" r="1.25" fill="#2bb48a"/>
<text x="66.2" y="632.01" font-size="4.0" fill="#2bb48a" text-anchor="middle" font-weight="bold">4</text>
<circle cx="70.40" cy="634.71" r="1.25" fill="#2bb48a"/>
<text x="66.2" y="636.01" font-size="4.0" fill="#2bb48a" text-anchor="middle" font-weight="bold">5</text>
<circle cx="70.40" cy="638.72" r="1.25" fill="#2bb48a"/>
<text x="66.2" y="640.02" font-size="4.0" fill="#2bb48a" text-anchor="middle" font-weight="bold">6</text>
<path d="M70.40,646.73 L81.50,646.73 M70.40,650.74 L81.50,650.74 M81.50,645.48 L81.50,651.99 M70.40,642.73 L84.30,642.73 M81.50,648.74 L84.30,648.74 M84.30,641.48 L84.30,649.99 M70.40,658.75 L85.40,658.75 M70.40,662.76 L85.40,662.76 M85.40,657.50 L85.40,664.01 M70.40,654.75 L87.70,654.75 M85.40,660.76 L87.70,660.76 M87.70,653.50 L87.70,662.01 M84.30,645.73 L93.90,645.73 M87.70,657.75 L93.90,657.75 M93.90,644.48 L93.90,659.00" stroke="#2f3192" stroke-width="2.5" fill="none" stroke-linecap="butt"/>
<circle cx="70.40" cy="642.73" r="1.25" fill="#2f3192"/>
<text x="66.2" y="644.03" font-size="4.0" fill="#2f3192" text-anchor="middle" font-weight="bold">1</text>
<circle cx="70.40" cy="646.73" r="1.25" fill="#2f3192"/>
<text x="66.2" y="648.03" font-size="4.0" fill="#2f3192" text-anchor="middle" font-weight="bold">3</text>
<circle cx="70.40" cy="650.74" r="1.25" fill="#2f3192"/>
<text x="66.2" y="652.04" font-size="4.0" fill="#2f3192" text-anchor="middle" font-weight="bold">2</text>
<circle cx="70.40" cy="654.75" r="1.25" fill="#2f3192"/>
<text x="66.2" y="656.05" font-size="4.0" fill="#2f3192" text-anchor="middle" font-weight="bold">5</text>
<circle cx="70.40" cy="658.75" r="1.25" fill="#2f3192"/>
<text x="66.2" y="660.05" font-size="4.0" fill="#2f3192" text-anchor="middle" font-weight="bold">6</text>
<circle cx="70.40" cy="662.76" r="1.25" fill="#2f3192"/>
<text x="66.2" y="664.06" font-size="4.0" fill="#2f3192" text-anchor="middle" font-weight="bold">4</text>
<path d="M70.40,666.77 L85.40,666.77 M70.40,670.77 L85.40,670.77 M85.40,665.52 L85.40,672.02 M85.40,668.77 L90.50,668.77 M70.40,674.78 L90.50,674.78 M90.50,667.52 L90.50,676.03 M70.40,682.79 L80.90,682.79 M70.40,686.80 L80.90,686.80 M80.90,681.54 L80.90,688.05 M70.40,678.79 L86.60,678.79 M80.90,684.80 L86.60,684.80 M86.60,677.54 L86.60,686.05 M90.50,671.77 L93.90,671.77 M86.60,681.79 L93.90,681.79 M93.90,670.52 L93.90,683.04" stroke="#a7234f" stroke-width="2.5" fill="none" stroke-linecap="butt"/>
<circle cx="70.40" cy="666.77" r="1.25" fill="#a7234f"/>
<text x="66.2" y="668.07" font-size="4.0" fill="#a7234f" text-anchor="middle" font-weight="bold">1</text>
<circle cx="70.40" cy="670.77" r="1.25" fill="#a7234f"/>
<text x="66.2" y="672.07" font-size="4.0" fill="#a7234f" text-anchor="middle" font-weight="bold">2</text>
<circle cx="70.40" cy="674.78" r="1.25" fill="#a7234f"/>
<text x="66.2" y="676.08" font-size="4.0" fill="#a7234f" text-anchor="middle" font-weight="bold">3</text>
<circle cx="70.40" cy="678.79" r="1.25" fill="#a7234f"/>
<text x="66.2" y="680.09" font-size="4.0" fill="#a7234f" text-anchor="middle" font-weight="bold">4</text>
<circle cx="70.40" cy="682.79" r="1.25" fill="#a7234f"/>
<text x="66.2" y="684.09" font-size="4.0" fill="#a7234f" text-anchor="middle" font-weight="bold">5</text>
<circle cx="70.40" cy="686.80" r="1.25" fill="#a7234f"/>
<text x="66.2" y="688.10" font-size="4.0" fill="#a7234f" text-anchor="middle" font-weight="bold">6</text>
<path d="M117.70,336.96 L138.30,336.96 M107.50,358.25 L138.30,358.25 M138.30,335.66 L138.30,359.55 M103.00,309.17 L167.20,309.17 M138.30,347.61 L167.20,347.61 M167.20,307.87 L167.20,348.91 M167.20,328.39 L392.30,328.39 M140.20,383.29 L392.30,383.29 M392.30,327.09 L392.30,384.59 M103.50,410.34 L256.00,410.34 M99.50,429.12 L256.00,429.12 M256.00,409.04 L256.00,430.42 M392.30,355.84 L433.40,355.84 M256.00,419.73 L433.40,419.73 M433.40,354.54 L433.40,421.03 M108.60,455.41 L153.30,455.41 M108.00,481.46 L153.30,481.46 M153.30,454.11 L153.30,482.76 M153.30,468.43 L207.20,468.43 M105.20,503.49 L207.20,503.49 M207.20,467.13 L207.20,504.79 M100.10,549.32 L132.30,549.32 M97.90,586.38 L132.30,586.38 M132.30,548.02 L132.30,587.68 M97.30,533.29 L220.20,533.29 M132.30,567.85 L220.20,567.85 M220.20,531.99 L220.20,569.15 M207.20,485.96 L330.70,485.96 M220.20,550.57 L330.70,550.57 M330.70,484.66 L330.70,551.87 M106.90,628.70 L187.70,628.70 M93.90,651.74 L187.70,651.74 M187.70,627.40 L187.70,653.04 M99.50,607.92 L200.40,607.92 M187.70,640.22 L200.40,640.22 M200.40,606.62 L200.40,641.52 M200.40,624.07 L313.00,624.07 M93.90,676.78 L313.00,676.78 M313.00,622.77 L313.00,678.08 M433.40,387.78 L452.80,387.78 M460.90,387.78 L491.50,387.78 M500.30,387.78 L537.70,387.78 M330.70,518.27 L451.50,518.27 M460.30,518.27 L475.90,518.27 M313.00,650.43 L451.50,650.43 M460.30,650.43 L475.90,650.43 M475.90,516.97 L475.90,651.73 M475.90,584.35 L491.20,584.35 M500.40,584.35 L537.70,584.35 M537.70,386.48 L537.70,585.65" stroke="#000" stroke-width="2.6" fill="none" stroke-linecap="butt"/>
<rect x="29" y="319.4" width="92.2" height="27.5" fill="none" stroke="#555" stroke-width="1.2" stroke-dasharray="4 2.6"/>
<rect x="29.3" y="564" width="88.3" height="27.5" fill="none" stroke="#555" stroke-width="1.2" stroke-dasharray="4 2.6"/>
<path d="M70.4,690.8 L450.5,690.8 M462.5,690.8 L490,690.8 M502,690.8 L561.5,690.8 M70.4,690.8 L70.4,697.4 M185.5,690.8 L185.5,697.4 M300.0,690.8 L300.0,697.4 M414.5,690.8 L414.5,697.4 M553.8,690.8 L553.8,697.4 M127.95,690.8 L127.95,694.1999999999999 M242.75,690.8 L242.75,694.1999999999999 M357.25,690.8 L357.25,694.1999999999999 M448.3,697.6999999999999 L457.2,683.4 M456.40000000000003,697.6999999999999 L465.3,683.4 M487.7,697.6999999999999 L496.59999999999997,683.4 M495.8,697.6999999999999 L504.7,683.4" stroke="#111" stroke-width="1.3" fill="none"/>
<text x="70.4" y="714.6" font-size="13.4" fill="#111" stroke="#111" stroke-width="0.3" text-anchor="middle" font-weight="bold" >0</text>
<text x="185.5" y="714.6" font-size="13.4" fill="#111" stroke="#111" stroke-width="0.3" text-anchor="middle" font-weight="bold" >150</text>
<text x="300.0" y="714.6" font-size="13.4" fill="#111" stroke="#111" stroke-width="0.3" text-anchor="middle" font-weight="bold" >300</text>
<text x="414.5" y="714.6" font-size="13.4" fill="#111" stroke="#111" stroke-width="0.3" text-anchor="middle" font-weight="bold" >450</text>
<text x="553.8" y="714.6" font-size="13.4" fill="#111" stroke="#111" stroke-width="0.3" text-anchor="middle" font-weight="bold" >950</text>
<text x="316" y="736" font-size="13.9" fill="#111" stroke="#111" stroke-width="0.3" text-anchor="middle" font-weight="bold" >Euclidean distance</text>
<text x="635.2" y="385.6" font-size="13.55" fill="#f07e22" stroke="#f07e22" stroke-width="0.3" text-anchor="middle" font-weight="bold" >Unknown A</text>
<rect x="559" y="394" width="137.1" height="84.7" fill="none" stroke="#555" stroke-width="1.3" stroke-dasharray="1.5 1.35"/>
<text x="632.5" y="527.3" font-size="13.6" fill="#3a3d96" stroke="#3a3d96" stroke-width="0.3" text-anchor="middle" font-weight="bold" >Unknown B</text>
<rect x="559" y="534" width="137.1" height="84.7" fill="none" stroke="#555" stroke-width="1.3" stroke-dasharray="1.5 1.35"/>
<path d="M611.20,410.70 L639.40,410.70 M611.20,418.70 L639.40,418.70 M639.40,410.70 L639.40,418.70 M639.40,414.70 L641.80,414.70 M611.20,427.00 L641.80,427.00 M641.80,414.70 L641.80,427.00 M641.80,420.85 L660.10,420.85 M660.10,420.85 L660.10,435.00 M611.20,443.30 L632.60,443.30 M611.20,451.40 L632.60,451.40 M632.60,443.30 L632.60,451.40 M632.60,447.35 L643.00,447.35 M611.20,459.70 L643.00,459.70 M643.00,447.35 L643.00,459.70 M660.10,427.93 L686.60,427.93 M643.00,453.52 L686.60,453.52 M686.60,427.93 L686.60,453.52" stroke="#5cb947" stroke-width="2.3" fill="none" stroke-linecap="square"/>
<path d="M611.20,435.00 L660.10,435.00" stroke="#f07e22" stroke-width="2.9" fill="none" stroke-linecap="square"/>
<text x="604.5" y="413.09999999999997" font-size="7" fill="#5cb947" text-anchor="middle" font-weight="bold" >1</text>
<text x="604.5" y="421.09999999999997" font-size="7" fill="#5cb947" text-anchor="middle" font-weight="bold" >2</text>
<text x="604.5" y="429.4" font-size="7" fill="#5cb947" text-anchor="middle" font-weight="bold" >3</text>
<text x="606.5" y="437.1" font-size="5.9" fill="#f07e22" text-anchor="end" font-weight="bold" >Unknown A</text>
<text x="604.5" y="445.7" font-size="7" fill="#5cb947" text-anchor="middle" font-weight="bold" >4</text>
<text x="604.5" y="453.79999999999995" font-size="7" fill="#5cb947" text-anchor="middle" font-weight="bold" >5</text>
<text x="604.5" y="462.09999999999997" font-size="7" fill="#5cb947" text-anchor="middle" font-weight="bold" >6</text>
<text x="585.2" y="425.2" font-size="11.3" fill="#5cb947" stroke="#5cb947" stroke-width="0.3" text-anchor="middle" font-weight="bold" >Hex</text>
<path d="M612.30,550.30 L637.30,550.30 M612.30,558.90 L637.30,558.90 M637.30,550.30 L637.30,558.90 M612.30,567.60 L637.30,567.60 M612.30,576.30 L637.30,576.30 M637.30,567.60 L637.30,576.30 M637.30,571.95 L646.80,571.95 M612.30,585.00 L646.80,585.00 M646.80,571.95 L646.80,585.00 M637.30,554.60 L649.60,554.60 M646.80,578.48 L649.60,578.48 M649.60,554.60 L649.60,578.48 M649.60,566.54 L658.70,566.54 M612.30,593.70 L658.70,593.70 M658.70,566.54 L658.70,593.70 M658.70,580.12 L686.00,580.12 M686.00,580.12 L686.00,602.40" stroke="#c9218a" stroke-width="2.3" fill="none" stroke-linecap="square"/>
<path d="M612.30,602.40 L686.00,602.40" stroke="#3a3d96" stroke-width="2.9" fill="none" stroke-linecap="square"/>
<text x="605.2" y="552.6999999999999" font-size="7" fill="#c9218a" text-anchor="middle" font-weight="bold" >1</text>
<text x="605.2" y="561.3" font-size="7" fill="#c9218a" text-anchor="middle" font-weight="bold" >3</text>
<text x="605.2" y="570.0" font-size="7" fill="#c9218a" text-anchor="middle" font-weight="bold" >4</text>
<text x="605.2" y="578.6999999999999" font-size="7" fill="#c9218a" text-anchor="middle" font-weight="bold" >5</text>
<text x="605.2" y="587.4" font-size="7" fill="#c9218a" text-anchor="middle" font-weight="bold" >6</text>
<text x="605.2" y="596.1" font-size="7" fill="#c9218a" text-anchor="middle" font-weight="bold" >2</text>
<text x="607.2" y="604.5" font-size="5.9" fill="#3a3d96" text-anchor="end" font-weight="bold" >Unknown B</text>
<text x="585.1" y="580.7" font-size="11.4" fill="#c9218a" stroke="#c9218a" stroke-width="0.3" text-anchor="middle" font-weight="bold" >IPA</text>
<text x="9.9" y="763.6" font-size="14.6" fill="#111" stroke="#111" stroke-width="0.3" text-anchor="start" font-weight="bold" >c</text>
<text x="39.4" y="764" font-size="11.75" fill="#111" stroke="#111" stroke-width="0.3" text-anchor="start" font-weight="bold" >EtOH content in Tol</text>
<text x="375.5" y="763.5" font-size="14.4" fill="#111" stroke="#111" stroke-width="0.3" text-anchor="start" font-weight="bold" >d</text>
<text x="400.7" y="764" font-size="11.7" fill="#111" stroke="#111" stroke-width="0.3" text-anchor="start" font-weight="bold" >MeOH content in Tol</text>
<path d="M7.20,788.70 L13.80,777.10 L26.60,777.10 L33.20,788.70 L26.60,800.30 L13.80,800.30Z" fill="#b58fd0"/><path d="M8.20,789.70 L14.80,778.10 L27.60,778.10 L34.20,789.70 L27.60,801.30 L14.80,801.30Z" fill="#e8e65a"/><path d="M7.70,789.20 L14.30,777.60 L27.10,777.60 L33.70,789.20 L27.10,800.80 L14.30,800.80Z" fill="#8e7e34"/>
<text x="20.7" y="815.6" font-size="11.6" fill="#111" stroke="#111" stroke-width="0.3" text-anchor="middle" font-weight="bold" >100%</text>
<path d="M43.20,788.70 L49.80,777.10 L62.60,777.10 L69.20,788.70 L62.60,800.30 L49.80,800.30Z" fill="#b58fd0"/><path d="M44.20,789.70 L50.80,778.10 L63.60,778.10 L70.20,789.70 L63.60,801.30 L50.80,801.30Z" fill="#e8e65a"/><path d="M43.70,789.20 L50.30,777.60 L63.10,777.60 L69.70,789.20 L63.10,800.80 L50.30,800.80Z" fill="#a4a036"/>
<text x="56.7" y="815.6" font-size="11.6" fill="#111" stroke="#111" stroke-width="0.3" text-anchor="middle" font-weight="bold" >90%</text>
<path d="M81.90,788.70 L88.50,777.10 L101.30,777.10 L107.90,788.70 L101.30,800.30 L88.50,800.30Z" fill="#b58fd0"/><path d="M82.90,789.70 L89.50,778.10 L102.30,778.10 L108.90,789.70 L102.30,801.30 L89.50,801.30Z" fill="#e8e65a"/><path d="M82.40,789.20 L89.00,777.60 L101.80,777.60 L108.40,789.20 L101.80,800.80 L89.00,800.80Z" fill="#9aa238"/>
<text x="95.4" y="815.6" font-size="11.6" fill="#111" stroke="#111" stroke-width="0.3" text-anchor="middle" font-weight="bold" >70%</text>
<path d="M119.40,788.70 L126.00,777.10 L138.80,777.10 L145.40,788.70 L138.80,800.30 L126.00,800.30Z" fill="#b58fd0"/><path d="M120.40,789.70 L127.00,778.10 L139.80,778.10 L146.40,789.70 L139.80,801.30 L127.00,801.30Z" fill="#e8e65a"/><path d="M119.90,789.20 L126.50,777.60 L139.30,777.60 L145.90,789.20 L139.30,800.80 L126.50,800.80Z" fill="#92a63a"/>
<text x="132.9" y="815.6" font-size="11.6" fill="#111" stroke="#111" stroke-width="0.3" text-anchor="middle" font-weight="bold" >50%</text>
<path d="M157.80,788.70 L164.40,777.10 L177.20,777.10 L183.80,788.70 L177.20,800.30 L164.40,800.30Z" fill="#b58fd0"/><path d="M158.80,789.70 L165.40,778.10 L178.20,778.10 L184.80,789.70 L178.20,801.30 L165.40,801.30Z" fill="#e8e65a"/><path d="M158.30,789.20 L164.90,777.60 L177.70,777.60 L184.30,789.20 L177.70,800.80 L164.90,800.80Z" fill="#b0c03e"/>
<text x="171.3" y="815.6" font-size="11.6" fill="#111" stroke="#111" stroke-width="0.3" text-anchor="middle" font-weight="bold" >30%</text>
<path d="M196.30,788.70 L202.90,777.10 L215.70,777.10 L222.30,788.70 L215.70,800.30 L202.90,800.30Z" fill="#b58fd0"/><path d="M197.30,789.70 L203.90,778.10 L216.70,778.10 L223.30,789.70 L216.70,801.30 L203.90,801.30Z" fill="#e8e65a"/><path d="M196.80,789.20 L203.40,777.60 L216.20,777.60 L222.80,789.20 L216.20,800.80 L203.40,800.80Z" fill="#b2c840"/>
<text x="209.8" y="815.6" font-size="11.6" fill="#111" stroke="#111" stroke-width="0.3" text-anchor="middle" font-weight="bold" >10%</text>
<path d="M234.90,788.70 L241.50,777.10 L254.30,777.10 L260.90,788.70 L254.30,800.30 L241.50,800.30Z" fill="#b58fd0"/><path d="M235.90,789.70 L242.50,778.10 L255.30,778.10 L261.90,789.70 L255.30,801.30 L242.50,801.30Z" fill="#e8e65a"/><path d="M235.40,789.20 L242.00,777.60 L254.80,777.60 L261.40,789.20 L254.80,800.80 L242.00,800.80Z" fill="#aac43e"/>
<text x="248.4" y="815.6" font-size="11.6" fill="#111" stroke="#111" stroke-width="0.3" text-anchor="middle" font-weight="bold" >1%</text>
<path d="M273.00,788.70 L279.60,777.10 L292.40,777.10 L299.00,788.70 L292.40,800.30 L279.60,800.30Z" fill="#b58fd0"/><path d="M274.00,789.70 L280.60,778.10 L293.40,778.10 L300.00,789.70 L293.40,801.30 L280.60,801.30Z" fill="#e8e65a"/><path d="M273.50,789.20 L280.10,777.60 L292.90,777.60 L299.50,789.20 L292.90,800.80 L280.10,800.80Z" fill="#a8c43e"/>
<text x="286.5" y="815.6" font-size="11.6" fill="#111" stroke="#111" stroke-width="0.3" text-anchor="middle" font-weight="bold" >0.5%</text>
<path d="M312.90,788.70 L319.50,777.10 L332.30,777.10 L338.90,788.70 L332.30,800.30 L319.50,800.30Z" fill="#b58fd0"/><path d="M313.90,789.70 L320.50,778.10 L333.30,778.10 L339.90,789.70 L333.30,801.30 L320.50,801.30Z" fill="#e8e65a"/><path d="M313.40,789.20 L320.00,777.60 L332.80,777.60 L339.40,789.20 L332.80,800.80 L320.00,800.80Z" fill="#c89a38"/>
<text x="326.4" y="815.6" font-size="11.6" fill="#111" stroke="#111" stroke-width="0.3" text-anchor="middle" font-weight="bold" >0%</text>
<path d="M371.70,788.70 L378.30,777.10 L391.10,777.10 L397.70,788.70 L391.10,800.30 L378.30,800.30Z" fill="#b58fd0"/><path d="M372.70,789.70 L379.30,778.10 L392.10,778.10 L398.70,789.70 L392.10,801.30 L379.30,801.30Z" fill="#e8e65a"/><path d="M372.20,789.20 L378.80,777.60 L391.60,777.60 L398.20,789.20 L391.60,800.80 L378.80,800.80Z" fill="#98a038"/>
<text x="385.2" y="815.6" font-size="11.6" fill="#111" stroke="#111" stroke-width="0.3" text-anchor="middle" font-weight="bold" >100%</text>
<path d="M410.70,788.70 L417.30,777.10 L430.10,777.10 L436.70,788.70 L430.10,800.30 L417.30,800.30Z" fill="#b58fd0"/><path d="M411.70,789.70 L418.30,778.10 L431.10,778.10 L437.70,789.70 L431.10,801.30 L418.30,801.30Z" fill="#e8e65a"/><path d="M411.20,789.20 L417.80,777.60 L430.60,777.60 L437.20,789.20 L430.60,800.80 L417.80,800.80Z" fill="#a8ac3a"/>
<text x="424.2" y="815.6" font-size="11.6" fill="#111" stroke="#111" stroke-width="0.3" text-anchor="middle" font-weight="bold" >90%</text>
<path d="M448.60,788.70 L455.20,777.10 L468.00,777.10 L474.60,788.70 L468.00,800.30 L455.20,800.30Z" fill="#b58fd0"/><path d="M449.60,789.70 L456.20,778.10 L469.00,778.10 L475.60,789.70 L469.00,801.30 L456.20,801.30Z" fill="#e8e65a"/><path d="M449.10,789.20 L455.70,777.60 L468.50,777.60 L475.10,789.20 L468.50,800.80 L455.70,800.80Z" fill="#a4a63a"/>
<text x="462.1" y="815.6" font-size="11.6" fill="#111" stroke="#111" stroke-width="0.3" text-anchor="middle" font-weight="bold" >70%</text>
<path d="M487.60,788.70 L494.20,777.10 L507.00,777.10 L513.60,788.70 L507.00,800.30 L494.20,800.30Z" fill="#b58fd0"/><path d="M488.60,789.70 L495.20,778.10 L508.00,778.10 L514.60,789.70 L508.00,801.30 L495.20,801.30Z" fill="#e8e65a"/><path d="M488.10,789.20 L494.70,777.60 L507.50,777.60 L514.10,789.20 L507.50,800.80 L494.70,800.80Z" fill="#909e3c"/>
<text x="501.1" y="815.6" font-size="11.6" fill="#111" stroke="#111" stroke-width="0.3" text-anchor="middle" font-weight="bold" >50%</text>
<path d="M526.50,788.70 L533.10,777.10 L545.90,777.10 L552.50,788.70 L545.90,800.30 L533.10,800.30Z" fill="#b58fd0"/><path d="M527.50,789.70 L534.10,778.10 L546.90,778.10 L553.50,789.70 L546.90,801.30 L534.10,801.30Z" fill="#e8e65a"/><path d="M527.00,789.20 L533.60,777.60 L546.40,777.60 L553.00,789.20 L546.40,800.80 L533.60,800.80Z" fill="#94a23c"/>
<text x="540.0" y="815.6" font-size="11.6" fill="#111" stroke="#111" stroke-width="0.3" text-anchor="middle" font-weight="bold" >30%</text>
<path d="M564.10,788.70 L570.70,777.10 L583.50,777.10 L590.10,788.70 L583.50,800.30 L570.70,800.30Z" fill="#b58fd0"/><path d="M565.10,789.70 L571.70,778.10 L584.50,778.10 L591.10,789.70 L584.50,801.30 L571.70,801.30Z" fill="#e8e65a"/><path d="M564.60,789.20 L571.20,777.60 L584.00,777.60 L590.60,789.20 L584.00,800.80 L571.20,800.80Z" fill="#94a03c"/>
<text x="577.6" y="815.6" font-size="11.6" fill="#111" stroke="#111" stroke-width="0.3" text-anchor="middle" font-weight="bold" >10%</text>
<path d="M603.50,788.70 L610.10,777.10 L622.90,777.10 L629.50,788.70 L622.90,800.30 L610.10,800.30Z" fill="#b58fd0"/><path d="M604.50,789.70 L611.10,778.10 L623.90,778.10 L630.50,789.70 L623.90,801.30 L611.10,801.30Z" fill="#e8e65a"/><path d="M604.00,789.20 L610.60,777.60 L623.40,777.60 L630.00,789.20 L623.40,800.80 L610.60,800.80Z" fill="#aac43e"/>
<text x="617.0" y="815.6" font-size="11.6" fill="#111" stroke="#111" stroke-width="0.3" text-anchor="middle" font-weight="bold" >1%</text>
<path d="M639.40,788.70 L646.00,777.10 L658.80,777.10 L665.40,788.70 L658.80,800.30 L646.00,800.30Z" fill="#b58fd0"/><path d="M640.40,789.70 L647.00,778.10 L659.80,778.10 L666.40,789.70 L659.80,801.30 L647.00,801.30Z" fill="#e8e65a"/><path d="M639.90,789.20 L646.50,777.60 L659.30,777.60 L665.90,789.20 L659.30,800.80 L646.50,800.80Z" fill="#a4c03e"/>
<text x="652.9" y="815.6" font-size="11.6" fill="#111" stroke="#111" stroke-width="0.3" text-anchor="middle" font-weight="bold" >0.1%</text>
<path d="M675.70,788.70 L682.30,777.10 L695.10,777.10 L701.70,788.70 L695.10,800.30 L682.30,800.30Z" fill="#b58fd0"/><path d="M676.70,789.70 L683.30,778.10 L696.10,778.10 L702.70,789.70 L696.10,801.30 L683.30,801.30Z" fill="#e8e65a"/><path d="M676.20,789.20 L682.80,777.60 L695.60,777.60 L702.20,789.20 L695.60,800.80 L682.80,800.80Z" fill="#cc9c3a"/>
<text x="689.2" y="815.6" font-size="11.6" fill="#111" stroke="#111" stroke-width="0.3" text-anchor="middle" font-weight="bold" >0%</text>
</svg>
</body></html>
